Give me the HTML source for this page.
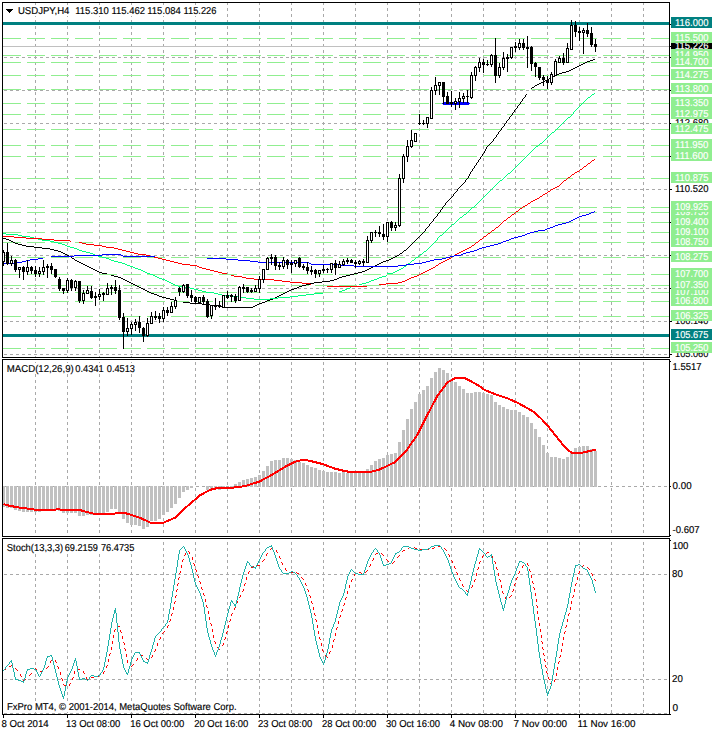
<!DOCTYPE html>
<html><head><meta charset="utf-8"><title>USDJPY,H4</title>
<style>html,body{margin:0;padding:0;background:#fff;}svg{display:block;}</style>
</head><body>
<svg width="712" height="732" viewBox="0 0 712 732" shape-rendering="crispEdges" font-family='"Liberation Sans", sans-serif' text-rendering="geometricPrecision">
<rect x="0" y="0" width="712" height="732" fill="#fff"/>
<g stroke="#a9a9a9" stroke-width="1" stroke-dasharray="3 3" fill="none">
<line x1="35.5" y1="3" x2="35.5" y2="357" stroke-dashoffset="1"/>
<line x1="67.5" y1="3" x2="67.5" y2="357" stroke-dashoffset="1"/>
<line x1="99.5" y1="3" x2="99.5" y2="357" stroke-dashoffset="1"/>
<line x1="131.5" y1="3" x2="131.5" y2="357" stroke-dashoffset="1"/>
<line x1="163.5" y1="3" x2="163.5" y2="357" stroke-dashoffset="1"/>
<line x1="195.5" y1="3" x2="195.5" y2="357" stroke-dashoffset="1"/>
<line x1="227.5" y1="3" x2="227.5" y2="357" stroke-dashoffset="1"/>
<line x1="259.5" y1="3" x2="259.5" y2="357" stroke-dashoffset="1"/>
<line x1="291.5" y1="3" x2="291.5" y2="357" stroke-dashoffset="1"/>
<line x1="323.5" y1="3" x2="323.5" y2="357" stroke-dashoffset="1"/>
<line x1="355.5" y1="3" x2="355.5" y2="357" stroke-dashoffset="1"/>
<line x1="387.5" y1="3" x2="387.5" y2="357" stroke-dashoffset="1"/>
<line x1="419.5" y1="3" x2="419.5" y2="357" stroke-dashoffset="1"/>
<line x1="451.5" y1="3" x2="451.5" y2="357" stroke-dashoffset="1"/>
<line x1="483.5" y1="3" x2="483.5" y2="357" stroke-dashoffset="1"/>
<line x1="515.5" y1="3" x2="515.5" y2="357" stroke-dashoffset="1"/>
<line x1="547.5" y1="3" x2="547.5" y2="357" stroke-dashoffset="1"/>
<line x1="579.5" y1="3" x2="579.5" y2="357" stroke-dashoffset="1"/>
<line x1="611.5" y1="3" x2="611.5" y2="357" stroke-dashoffset="1"/>
<line x1="643.5" y1="3" x2="643.5" y2="357" stroke-dashoffset="1"/>
<line x1="35.5" y1="360" x2="35.5" y2="536" stroke-dashoffset="4"/>
<line x1="67.5" y1="360" x2="67.5" y2="536" stroke-dashoffset="4"/>
<line x1="99.5" y1="360" x2="99.5" y2="536" stroke-dashoffset="4"/>
<line x1="131.5" y1="360" x2="131.5" y2="536" stroke-dashoffset="4"/>
<line x1="163.5" y1="360" x2="163.5" y2="536" stroke-dashoffset="4"/>
<line x1="195.5" y1="360" x2="195.5" y2="536" stroke-dashoffset="4"/>
<line x1="227.5" y1="360" x2="227.5" y2="536" stroke-dashoffset="4"/>
<line x1="259.5" y1="360" x2="259.5" y2="536" stroke-dashoffset="4"/>
<line x1="291.5" y1="360" x2="291.5" y2="536" stroke-dashoffset="4"/>
<line x1="323.5" y1="360" x2="323.5" y2="536" stroke-dashoffset="4"/>
<line x1="355.5" y1="360" x2="355.5" y2="536" stroke-dashoffset="4"/>
<line x1="387.5" y1="360" x2="387.5" y2="536" stroke-dashoffset="4"/>
<line x1="419.5" y1="360" x2="419.5" y2="536" stroke-dashoffset="4"/>
<line x1="451.5" y1="360" x2="451.5" y2="536" stroke-dashoffset="4"/>
<line x1="483.5" y1="360" x2="483.5" y2="536" stroke-dashoffset="4"/>
<line x1="515.5" y1="360" x2="515.5" y2="536" stroke-dashoffset="4"/>
<line x1="547.5" y1="360" x2="547.5" y2="536" stroke-dashoffset="4"/>
<line x1="579.5" y1="360" x2="579.5" y2="536" stroke-dashoffset="4"/>
<line x1="611.5" y1="360" x2="611.5" y2="536" stroke-dashoffset="4"/>
<line x1="643.5" y1="360" x2="643.5" y2="536" stroke-dashoffset="4"/>
<line x1="35.5" y1="539" x2="35.5" y2="714" stroke-dashoffset="3"/>
<line x1="67.5" y1="539" x2="67.5" y2="714" stroke-dashoffset="3"/>
<line x1="99.5" y1="539" x2="99.5" y2="714" stroke-dashoffset="3"/>
<line x1="131.5" y1="539" x2="131.5" y2="714" stroke-dashoffset="3"/>
<line x1="163.5" y1="539" x2="163.5" y2="714" stroke-dashoffset="3"/>
<line x1="195.5" y1="539" x2="195.5" y2="714" stroke-dashoffset="3"/>
<line x1="227.5" y1="539" x2="227.5" y2="714" stroke-dashoffset="3"/>
<line x1="259.5" y1="539" x2="259.5" y2="714" stroke-dashoffset="3"/>
<line x1="291.5" y1="539" x2="291.5" y2="714" stroke-dashoffset="3"/>
<line x1="323.5" y1="539" x2="323.5" y2="714" stroke-dashoffset="3"/>
<line x1="355.5" y1="539" x2="355.5" y2="714" stroke-dashoffset="3"/>
<line x1="387.5" y1="539" x2="387.5" y2="714" stroke-dashoffset="3"/>
<line x1="419.5" y1="539" x2="419.5" y2="714" stroke-dashoffset="3"/>
<line x1="451.5" y1="539" x2="451.5" y2="714" stroke-dashoffset="3"/>
<line x1="483.5" y1="539" x2="483.5" y2="714" stroke-dashoffset="3"/>
<line x1="515.5" y1="539" x2="515.5" y2="714" stroke-dashoffset="3"/>
<line x1="547.5" y1="539" x2="547.5" y2="714" stroke-dashoffset="3"/>
<line x1="579.5" y1="539" x2="579.5" y2="714" stroke-dashoffset="3"/>
<line x1="611.5" y1="539" x2="611.5" y2="714" stroke-dashoffset="3"/>
<line x1="643.5" y1="539" x2="643.5" y2="714" stroke-dashoffset="3"/>
<line x1="3" y1="24.5" x2="669" y2="24.5" stroke-dashoffset="5"/>
<line x1="3" y1="57.5" x2="669" y2="57.5" stroke-dashoffset="5"/>
<line x1="3" y1="90.5" x2="669" y2="90.5" stroke-dashoffset="5"/>
<line x1="3" y1="123.5" x2="669" y2="123.5" stroke-dashoffset="5"/>
<line x1="3" y1="156.5" x2="669" y2="156.5" stroke-dashoffset="5"/>
<line x1="3" y1="189.5" x2="669" y2="189.5" stroke-dashoffset="5"/>
<line x1="3" y1="222.5" x2="669" y2="222.5" stroke-dashoffset="5"/>
<line x1="3" y1="255.5" x2="669" y2="255.5" stroke-dashoffset="5"/>
<line x1="3" y1="288.5" x2="669" y2="288.5" stroke-dashoffset="5"/>
<line x1="3" y1="321.5" x2="669" y2="321.5" stroke-dashoffset="5"/>
<line x1="3" y1="354.5" x2="669" y2="354.5" stroke-dashoffset="5"/>
<line x1="3" y1="486.5" x2="669" y2="486.5" stroke-dashoffset="5"/>
<line x1="3" y1="574.5" x2="669" y2="574.5" stroke-dashoffset="5"/>
<line x1="3" y1="679.5" x2="669" y2="679.5" stroke-dashoffset="5"/>
<line x1="3" y1="713.5" x2="669" y2="713.5" stroke-dashoffset="5"/>
</g>
<rect x="3" y="38" width="666" height="1" fill="#fff"/>
<rect x="3" y="55" width="666" height="1" fill="#fff"/>
<rect x="3" y="62" width="666" height="1" fill="#fff"/>
<rect x="3" y="75" width="666" height="1" fill="#fff"/>
<rect x="3" y="89" width="666" height="1" fill="#fff"/>
<rect x="3" y="103" width="666" height="1" fill="#fff"/>
<rect x="3" y="114" width="666" height="1" fill="#fff"/>
<rect x="3" y="129" width="666" height="1" fill="#fff"/>
<rect x="3" y="145" width="666" height="1" fill="#fff"/>
<rect x="3" y="156" width="666" height="1" fill="#fff"/>
<rect x="3" y="178" width="666" height="1" fill="#fff"/>
<rect x="3" y="207" width="666" height="1" fill="#fff"/>
<rect x="3" y="212" width="666" height="1" fill="#fff"/>
<rect x="3" y="222" width="666" height="1" fill="#fff"/>
<rect x="3" y="232" width="666" height="1" fill="#fff"/>
<rect x="3" y="242" width="666" height="1" fill="#fff"/>
<rect x="3" y="257" width="666" height="1" fill="#fff"/>
<rect x="3" y="274" width="666" height="1" fill="#fff"/>
<rect x="3" y="285" width="666" height="1" fill="#fff"/>
<rect x="3" y="292" width="666" height="1" fill="#fff"/>
<rect x="3" y="301" width="666" height="1" fill="#fff"/>
<rect x="3" y="316" width="666" height="1" fill="#fff"/>
<rect x="3" y="348" width="666" height="1" fill="#fff"/>
<g stroke="#90ee90" stroke-width="1" stroke-dasharray="18 6" fill="none">
<line x1="3" y1="38.5" x2="669" y2="38.5"/>
<line x1="3" y1="55.5" x2="669" y2="55.5"/>
<line x1="3" y1="62.5" x2="669" y2="62.5"/>
<line x1="3" y1="75.5" x2="669" y2="75.5"/>
<line x1="3" y1="89.5" x2="669" y2="89.5"/>
<line x1="3" y1="103.5" x2="669" y2="103.5"/>
<line x1="3" y1="114.5" x2="669" y2="114.5"/>
<line x1="3" y1="129.5" x2="669" y2="129.5"/>
<line x1="3" y1="145.5" x2="669" y2="145.5"/>
<line x1="3" y1="156.5" x2="669" y2="156.5"/>
<line x1="3" y1="178.5" x2="669" y2="178.5"/>
<line x1="3" y1="207.5" x2="669" y2="207.5"/>
<line x1="3" y1="212.5" x2="669" y2="212.5"/>
<line x1="3" y1="222.5" x2="669" y2="222.5"/>
<line x1="3" y1="232.5" x2="669" y2="232.5"/>
<line x1="3" y1="242.5" x2="669" y2="242.5"/>
<line x1="3" y1="257.5" x2="669" y2="257.5"/>
<line x1="3" y1="274.5" x2="669" y2="274.5"/>
<line x1="3" y1="285.5" x2="669" y2="285.5"/>
<line x1="3" y1="292.5" x2="669" y2="292.5"/>
<line x1="3" y1="301.5" x2="669" y2="301.5"/>
<line x1="3" y1="316.5" x2="669" y2="316.5"/>
<line x1="3" y1="348.5" x2="669" y2="348.5"/>
</g>
<rect x="3" y="46" width="666" height="1" fill="#c0c0c0"/>
<rect x="3" y="22" width="666" height="3" fill="#008080"/>
<rect x="3" y="334" width="666" height="3" fill="#008080"/>
<path fill="#000" d="M438 213h1v1h-1zM111 275h3v1h-3zM346 275h4v1h-4zM125 280h2v1h-2zM330 280h4v1h-4zM77 261h2v1h-2zM383 261h3v1h-3zM517 106h1v1h-1zM85 265h2v1h-2zM375 265h2v1h-2zM571 69h2v1h-2zM451 197h1v1h-1zM202 304h8v1h-8zM257 304h2v1h-2zM454 193h1v1h-1zM54 250h4v1h-4zM404 250h2v1h-2zM143 289h2v1h-2zM291 289h3v1h-3zM72 258h2v1h-2zM391 258h2v1h-2zM102 273h5v1h-5zM354 273h4v1h-4zM566 71h3v1h-3zM121 278h2v1h-2zM337 278h2v1h-2zM218 306h4v1h-4zM253 306h2v1h-2zM170 299h4v1h-4zM270 299h3v1h-3zM449 199h1v1h-1zM34 247h8v1h-8zM408 247h1v1h-1zM147 291h2v1h-2zM287 291h2v1h-2zM485 149h1v1h-1zM26 246h8v1h-8zM409 246h1v1h-1zM222 307h31v1h-31zM547 79h2v1h-2zM114 276h4v1h-4zM342 276h4v1h-4zM474 166h1v1h-1zM510 116h1v1h-1zM50 249h4v1h-4zM406 249h1v1h-1zM543 81h2v1h-2zM83 264h2v1h-2zM377 264h2v1h-2zM513 112h1v1h-1zM587 61h3v1h-3zM498 132h1v1h-1zM522 99h1v1h-1zM525 95h1v1h-1zM457 189h1v1h-1zM166 298h4v1h-4zM273 298h2v1h-2zM67 255h2v1h-2zM397 255h2v1h-2zM493 139h1v1h-1zM89 267h2v1h-2zM371 267h2v1h-2zM157 295h2v1h-2zM279 295h2v1h-2zM470 173h1v1h-1zM562 72h4v1h-4zM42 248h8v1h-8zM407 248h1v1h-1zM97 271h2v1h-2zM362 271h3v1h-3zM593 59h2v1h-2zM131 283h2v1h-2zM310 283h4v1h-4zM75 260h2v1h-2zM386 260h3v1h-3zM63 253h2v1h-2zM400 253h2v1h-2zM190 303h12v1h-12zM259 303h3v1h-3zM11 241h2v1h-2zM414 241h1v1h-1zM477 162h1v1h-1zM501 129h1v1h-1zM504 125h1v1h-1zM446 202h1v1h-1zM129 282h2v1h-2zM314 282h8v1h-8zM569 70h2v1h-2zM18 244h4v1h-4zM411 244h1v1h-1zM516 108h1v1h-1zM350 274h4v1h-4zM137 286h2v1h-2zM299 286h3v1h-3zM429 225h1v1h-1zM58 251h3v1h-3zM403 251h1v1h-1zM539 83h2v1h-2zM583 63h2v1h-2zM183 302h7v1h-7zM262 302h3v1h-3zM3 238h3v1h-3zM417 238h1v1h-1zM93 269h2v1h-2zM367 269h2v1h-2zM61 252h2v1h-2zM402 252h1v1h-1zM162 297h4v1h-4zM275 297h2v1h-2zM139 287h2v1h-2zM297 287h2v1h-2zM118 277h3v1h-3zM339 277h3v1h-3zM426 228h1v1h-1zM133 284h2v1h-2zM306 284h4v1h-4zM461 185h1v1h-1zM437 215h1v1h-1zM473 168h1v1h-1zM421 234h1v1h-1zM135 285h2v1h-2zM302 285h4v1h-4zM453 195h1v1h-1zM127 281h2v1h-2zM322 281h8v1h-8zM480 158h1v1h-1zM13 242h2v1h-2zM413 242h1v1h-1zM210 305h8v1h-8zM255 305h2v1h-2zM492 141h1v1h-1zM159 296h3v1h-3zM277 296h2v1h-2zM149 292h2v1h-2zM285 292h2v1h-2zM501 128h1v1h-1zM504 124h1v1h-1zM15 243h3v1h-3zM412 243h1v1h-1zM469 175h1v1h-1zM6 239h3v1h-3zM416 239h1v1h-1zM151 293h3v1h-3zM283 293h2v1h-2zM535 85h2v1h-2zM484 151h1v1h-1zM464 182h1v1h-1zM71 257h1v1h-1zM393 257h2v1h-2zM123 279h2v1h-2zM334 279h3v1h-3zM154 294h3v1h-3zM281 294h2v1h-2zM429 224h1v1h-1zM145 290h2v1h-2zM289 290h2v1h-2zM9 240h2v1h-2zM415 240h1v1h-1zM99 272h3v1h-3zM358 272h4v1h-4zM74 259h1v1h-1zM389 259h2v1h-2zM445 204h1v1h-1zM512 114h1v1h-1zM91 268h2v1h-2zM369 268h2v1h-2zM524 97h1v1h-1zM456 191h1v1h-1zM559 73h3v1h-3zM141 288h2v1h-2zM294 288h3v1h-3zM495 137h1v1h-1zM437 214h1v1h-1zM440 210h1v1h-1zM507 120h1v1h-1zM480 157h1v1h-1zM22 245h4v1h-4zM410 245h1v1h-1zM448 200h1v1h-1zM541 82h2v1h-2zM487 146h1v1h-1zM81 263h2v1h-2zM379 263h2v1h-2zM585 62h2v1h-2zM476 164h1v1h-1zM95 270h2v1h-2zM365 270h2v1h-2zM577 66h2v1h-2zM500 130h1v1h-1zM555 75h2v1h-2zM459 187h1v1h-1zM590 60h3v1h-3zM483 153h1v1h-1zM425 230h1v1h-1zM428 226h1v1h-1zM174 300h1v1h-1zM267 300h3v1h-3zM423 232h1v1h-1zM87 266h2v1h-2zM373 266h2v1h-2zM79 262h2v1h-2zM381 262h2v1h-2zM436 216h1v1h-1zM537 84h2v1h-2zM581 64h2v1h-2zM503 126h1v1h-1zM506 122h1v1h-1zM515 109h1v1h-1zM69 256h2v1h-2zM395 256h2v1h-2zM443 206h1v1h-1zM573 68h2v1h-2zM431 222h1v1h-1zM557 74h2v1h-2zM420 235h1v1h-1zM65 254h2v1h-2zM399 254h1v1h-1zM534 86h1v1h-1zM479 159h1v1h-1zM491 142h1v1h-1zM494 138h1v1h-1zM518 105h1v1h-1zM506 121h1v1h-1zM463 183h1v1h-1zM486 148h1v1h-1zM466 179h1v1h-1zM553 76h2v1h-2zM265 301h2v1h-2zM549 78h2v1h-2zM470 172h1v1h-1zM439 212h1v1h-1zM442 208h1v1h-1zM482 155h1v1h-1zM509 118h1v1h-1zM521 101h1v1h-1zM434 218h1v1h-1zM579 65h2v1h-2zM450 198h1v1h-1zM532 87h2v1h-2zM575 67h2v1h-2zM486 147h1v1h-1zM478 161h1v1h-1zM545 80h2v1h-2zM458 188h1v1h-1zM497 134h1v1h-1zM442 207h1v1h-1zM482 154h1v1h-1zM418 237h1v1h-1zM509 117h1v1h-1zM453 194h1v1h-1zM489 144h1v1h-1zM469 174h1v1h-1zM517 107h1v1h-1zM520 103h1v1h-1zM433 220h1v1h-1zM445 203h1v1h-1zM465 181h1v1h-1zM512 113h1v1h-1zM551 77h2v1h-2zM485 150h1v1h-1zM422 233h1v1h-1zM457 190h1v1h-1zM493 140h1v1h-1zM481 156h1v1h-1zM505 123h1v1h-1zM520 102h1v1h-1zM452 196h1v1h-1zM476 163h1v1h-1zM468 177h1v1h-1zM433 219h1v1h-1zM465 180h1v1h-1zM425 229h1v1h-1zM472 170h1v1h-1zM496 136h1v1h-1zM441 209h1v1h-1zM508 119h1v1h-1zM511 115h1v1h-1zM523 98h1v1h-1zM488 145h1v1h-1zM468 176h1v1h-1zM444 205h1v1h-1zM460 186h1v1h-1zM472 169h1v1h-1zM475 165h1v1h-1zM484 152h1v1h-1zM496 135h1v1h-1zM499 131h1v1h-1zM455 192h1v1h-1zM424 231h1v1h-1zM440 211h1v1h-1zM531 88h1v1h-1zM519 104h1v1h-1zM447 201h1v1h-1zM432 221h1v1h-1zM514 111h1v1h-1zM435 217h1v1h-1zM502 127h1v1h-1zM526 94h1v1h-1zM427 227h1v1h-1zM471 171h1v1h-1zM419 236h1v1h-1zM478 160h1v1h-1zM467 178h1v1h-1zM490 143h1v1h-1zM514 110h1v1h-1zM430 223h1v1h-1zM462 184h1v1h-1zM474 167h1v1h-1zM498 133h1v1h-1zM522 100h1v1h-1zM525 96h1v1h-1z"/>
<path fill="#00ff7f" d="M578 107h1v1h-1zM173 284h2v1h-2zM359 284h3v1h-3zM6 234h12v1h-12zM442 234h1v1h-1zM214 293h4v1h-4zM314 293h9v1h-9zM194 289h4v1h-4zM345 289h2v1h-2zM500 180h2v1h-2zM147 273h3v1h-3zM387 273h6v1h-6zM42 240h8v1h-8zM436 240h1v1h-1zM238 297h8v1h-8zM278 297h12v1h-12zM536 146h2v1h-2zM198 290h4v1h-4zM342 290h3v1h-3zM127 265h3v1h-3zM406 265h1v1h-1zM82 251h4v1h-4zM424 251h2v1h-2zM141 270h2v1h-2zM397 270h2v1h-2zM527 155h1v1h-1zM452 224h2v1h-2zM22 236h8v1h-8zM439 236h1v1h-1zM165 280h2v1h-2zM371 280h3v1h-3zM118 262h4v1h-4zM410 262h1v1h-1zM54 242h4v1h-4zM434 242h1v1h-1zM566 119h1v1h-1zM230 296h8v1h-8zM290 296h8v1h-8zM492 188h1v1h-1zM206 292h8v1h-8zM446 230h1v1h-1zM178 286h4v1h-4zM58 243h4v1h-4zM433 243h1v1h-1zM190 288h4v1h-4zM347 288h3v1h-3zM570 116h1v1h-1zM524 158h1v1h-1zM38 239h4v1h-4zM437 239h1v1h-1zM93 254h2v1h-2zM420 254h2v1h-2zM254 299h16v1h-16zM515 167h1v1h-1zM550 134h1v1h-1zM122 263h3v1h-3zM408 263h2v1h-2zM95 255h3v1h-3zM419 255h1v1h-1zM114 261h4v1h-4zM411 261h1v1h-1zM554 131h1v1h-1zM508 173h2v1h-2zM222 295h8v1h-8zM298 295h8v1h-8zM86 252h4v1h-4zM423 252h1v1h-1zM202 291h4v1h-4zM339 291h3v1h-3zM480 200h1v1h-1zM67 246h3v1h-3zM430 246h1v1h-1zM98 256h4v1h-4zM418 256h1v1h-1zM218 294h4v1h-4zM306 294h8v1h-8zM155 276h2v1h-2zM382 276h4v1h-4zM512 170h1v1h-1zM547 137h1v1h-1zM30 237h4v1h-4zM438 237h1v1h-1zM90 253h3v1h-3zM422 253h1v1h-1zM125 264h2v1h-2zM407 264h1v1h-1zM145 272h2v1h-2zM393 272h2v1h-2zM182 287h8v1h-8zM350 287h1v1h-1zM169 282h2v1h-2zM366 282h3v1h-3zM62 244h3v1h-3zM432 244h1v1h-1zM573 112h1v1h-1zM499 181h1v1h-1zM65 245h2v1h-2zM431 245h1v1h-1zM109 259h2v1h-2zM414 259h1v1h-1zM102 257h4v1h-4zM416 257h2v1h-2zM34 238h4v1h-4zM437 238h1v1h-1zM561 124h1v1h-1zM585 100h1v1h-1zM487 193h1v1h-1zM18 235h4v1h-4zM440 235h2v1h-2zM138 269h3v1h-3zM399 269h2v1h-2zM519 163h1v1h-1zM588 97h2v1h-2zM130 266h3v1h-3zM404 266h2v1h-2zM70 247h4v1h-4zM429 247h1v1h-1zM534 148h1v1h-1zM471 208h1v1h-1zM246 298h8v1h-8zM270 298h8v1h-8zM460 217h2v1h-2zM503 178h1v1h-1zM538 145h1v1h-1zM475 205h1v1h-1zM143 271h2v1h-2zM395 271h2v1h-2zM464 214h2v1h-2zM542 142h1v1h-1zM3 233h3v1h-3zM443 233h1v1h-1zM135 268h3v1h-3zM401 268h2v1h-2zM522 160h1v1h-1zM577 108h1v1h-1zM153 275h2v1h-2zM386 275h1v1h-1zM494 186h1v1h-1zM162 279h3v1h-3zM374 279h3v1h-3zM448 228h1v1h-1zM74 248h3v1h-3zM428 248h1v1h-1zM592 94h2v1h-2zM157 277h2v1h-2zM379 277h3v1h-3zM510 172h1v1h-1zM565 120h1v1h-1zM77 249h2v1h-2zM427 249h1v1h-1zM150 274h3v1h-3zM171 283h2v1h-2zM362 283h4v1h-4zM580 105h1v1h-1zM79 250h3v1h-3zM426 250h1v1h-1zM549 135h1v1h-1zM50 241h4v1h-4zM435 241h1v1h-1zM451 225h1v1h-1zM106 258h3v1h-3zM415 258h1v1h-1zM529 153h1v1h-1zM466 213h1v1h-1zM167 281h2v1h-2zM369 281h2v1h-2zM455 222h1v1h-1zM111 260h3v1h-3zM412 260h2v1h-2zM568 117h2v1h-2zM159 278h3v1h-3zM377 278h2v1h-2zM526 156h1v1h-1zM482 198h1v1h-1zM517 165h1v1h-1zM587 98h1v1h-1zM556 129h1v1h-1zM552 132h2v1h-2zM514 168h1v1h-1zM175 285h3v1h-3zM572 114h1v1h-1zM540 143h2v1h-2zM575 110h1v1h-1zM544 140h1v1h-1zM498 182h1v1h-1zM533 149h1v1h-1zM591 95h1v1h-1zM563 122h1v1h-1zM486 194h1v1h-1zM521 161h1v1h-1zM477 203h1v1h-1zM582 103h1v1h-1zM470 209h1v1h-1zM505 176h1v1h-1zM474 206h1v1h-1zM489 191h1v1h-1zM457 220h1v1h-1zM133 267h2v1h-2zM403 267h1v1h-1zM450 226h1v1h-1zM560 125h1v1h-1zM528 154h1v1h-1zM454 223h1v1h-1zM558 127h1v1h-1zM579 106h1v1h-1zM481 199h1v1h-1zM516 166h1v1h-1zM551 133h1v1h-1zM496 184h1v1h-1zM531 151h1v1h-1zM468 211h1v1h-1zM567 118h1v1h-1zM493 187h1v1h-1zM484 196h1v1h-1zM445 231h1v1h-1zM586 99h1v1h-1zM555 130h1v1h-1zM523 159h1v1h-1zM590 96h1v1h-1zM507 174h1v1h-1zM574 111h1v1h-1zM511 171h1v1h-1zM535 147h1v1h-1zM491 189h1v1h-1zM562 123h1v1h-1zM488 192h1v1h-1zM479 201h1v1h-1zM546 138h1v1h-1zM584 101h1v1h-1zM472 207h2v1h-2zM476 204h1v1h-1zM459 218h1v1h-1zM502 179h1v1h-1zM456 221h1v1h-1zM495 185h1v1h-1zM530 152h1v1h-1zM573 113h1v1h-1zM557 128h1v1h-1zM581 104h1v1h-1zM483 197h1v1h-1zM518 164h1v1h-1zM463 215h1v1h-1zM467 212h1v1h-1zM506 175h1v1h-1zM447 229h1v1h-1zM490 190h1v1h-1zM525 157h1v1h-1zM444 232h1v1h-1zM548 136h1v1h-1zM576 109h1v1h-1zM478 202h1v1h-1zM513 169h1v1h-1zM545 139h1v1h-1zM571 115h1v1h-1zM564 121h1v1h-1zM532 150h1v1h-1zM594 93h1v1h-1zM583 102h1v1h-1zM520 162h1v1h-1zM469 210h1v1h-1zM504 177h1v1h-1zM539 144h1v1h-1zM458 219h1v1h-1zM462 216h1v1h-1zM497 183h1v1h-1zM449 227h1v1h-1zM559 126h1v1h-1zM485 195h1v1h-1zM543 141h1v1h-1z"/>
<path fill="#ff0000" d="M94 245h8v1h-8zM472 245h2v1h-2zM3 236h11v1h-11zM484 236h2v1h-2zM282 281h8v1h-8zM402 281h3v1h-3zM246 278h8v1h-8zM409 278h2v1h-2zM102 246h4v1h-4zM471 246h1v1h-1zM231 275h3v1h-3zM417 275h2v1h-2zM122 250h4v1h-4zM463 250h2v1h-2zM494 229h1v1h-1zM327 286h40v1h-40zM82 243h4v1h-4zM475 243h1v1h-1zM310 284h1v1h-1zM379 284h7v1h-7zM210 270h4v1h-4zM427 270h2v1h-2zM182 264h8v1h-8zM438 264h1v1h-1zM222 273h5v1h-5zM421 273h2v1h-2zM26 238h16v1h-16zM482 238h1v1h-1zM42 239h12v1h-12zM480 239h2v1h-2zM522 207h1v1h-1zM190 265h7v1h-7zM436 265h2v1h-2zM214 271h4v1h-4zM425 271h2v1h-2zM254 279h20v1h-20zM407 279h2v1h-2zM197 266h2v1h-2zM435 266h1v1h-1zM158 258h4v1h-4zM449 258h2v1h-2zM302 283h8v1h-8zM386 283h12v1h-12zM106 247h8v1h-8zM469 247h2v1h-2zM583 167h1v1h-1zM575 172h2v1h-2zM118 249h4v1h-4zM465 249h2v1h-2zM114 248h4v1h-4zM467 248h2v1h-2zM242 277h4v1h-4zM411 277h3v1h-3zM498 226h1v1h-1zM587 164h1v1h-1zM138 254h8v1h-8zM455 254h2v1h-2zM86 244h8v1h-8zM474 244h1v1h-1zM14 237h12v1h-12zM483 237h1v1h-1zM290 282h12v1h-12zM398 282h4v1h-4zM54 240h16v1h-16zM479 240h1v1h-1zM162 259h4v1h-4zM447 259h2v1h-2zM218 272h4v1h-4zM423 272h2v1h-2zM166 260h4v1h-4zM445 260h2v1h-2zM234 276h8v1h-8zM414 276h3v1h-3zM146 255h4v1h-4zM454 255h1v1h-1zM528 203h2v1h-2zM126 251h4v1h-4zM461 251h2v1h-2zM199 267h3v1h-3zM433 267h2v1h-2zM591 161h1v1h-1zM520 208h2v1h-2zM508 217h2v1h-2zM564 180h2v1h-2zM79 242h3v1h-3zM476 242h2v1h-2zM274 280h8v1h-8zM405 280h2v1h-2zM512 214h2v1h-2zM540 196h2v1h-2zM130 252h4v1h-4zM459 252h2v1h-2zM170 261h4v1h-4zM443 261h2v1h-2zM419 274h2v1h-2zM150 256h4v1h-4zM452 256h2v1h-2zM202 268h4v1h-4zM431 268h2v1h-2zM134 253h4v1h-4zM457 253h2v1h-2zM206 269h4v1h-4zM429 269h2v1h-2zM154 257h4v1h-4zM451 257h1v1h-1zM516 211h2v1h-2zM566 179h1v1h-1zM577 171h2v1h-2zM570 176h1v1h-1zM559 185h1v1h-1zM582 168h1v1h-1zM511 215h1v1h-1zM500 224h1v1h-1zM574 173h1v1h-1zM488 233h2v1h-2zM555 187h2v1h-2zM586 165h1v1h-1zM178 263h4v1h-4zM439 263h2v1h-2zM547 192h1v1h-1zM492 230h2v1h-2zM539 197h1v1h-1zM174 262h4v1h-4zM441 262h2v1h-2zM515 212h1v1h-1zM527 204h1v1h-1zM519 209h1v1h-1zM543 194h2v1h-2zM535 199h2v1h-2zM523 206h2v1h-2zM557 186h2v1h-2zM548 191h2v1h-2zM487 234h1v1h-1zM561 183h1v1h-1zM531 201h2v1h-2zM568 177h2v1h-2zM553 188h2v1h-2zM545 193h2v1h-2zM502 222h1v1h-1zM580 169h2v1h-2zM491 231h1v1h-1zM537 198h2v1h-2zM506 219h1v1h-1zM584 166h2v1h-2zM495 228h1v1h-1zM499 225h1v1h-1zM572 174h2v1h-2zM533 200h2v1h-2zM525 205h2v1h-2zM588 163h2v1h-2zM70 241h1v1h-1zM478 241h1v1h-1zM510 216h1v1h-1zM514 213h1v1h-1zM590 162h1v1h-1zM551 189h2v1h-2zM496 227h2v1h-2zM563 181h1v1h-1zM594 159h1v1h-1zM486 235h1v1h-1zM490 232h1v1h-1zM504 220h2v1h-2zM567 178h1v1h-1zM579 170h1v1h-1zM571 175h1v1h-1zM560 184h1v1h-1zM501 223h1v1h-1zM592 160h2v1h-2zM550 190h1v1h-1zM542 195h1v1h-1zM562 182h1v1h-1zM518 210h1v1h-1zM503 221h1v1h-1zM530 202h1v1h-1zM507 218h1v1h-1z"/>
<path fill="#0000ff" d="M527 233h3v1h-3zM102 254h19v1h-19zM461 254h2v1h-2zM575 218h2v1h-2zM51 256h23v1h-23zM123 256h32v1h-32zM450 256h4v1h-4zM26 260h4v1h-4zM238 260h12v1h-12zM430 260h4v1h-4zM538 230h7v1h-7zM38 258h5v1h-5zM207 258h19v1h-19zM442 258h4v1h-4zM74 255h28v1h-28zM121 255h2v1h-2zM454 255h7v1h-7zM30 259h8v1h-8zM226 259h12v1h-12zM434 259h8v1h-8zM22 261h4v1h-4zM250 261h8v1h-8zM426 261h4v1h-4zM311 264h27v1h-27zM406 264h8v1h-8zM586 214h3v1h-3zM501 242h2v1h-2zM3 263h11v1h-11zM309 263h2v1h-2zM414 263h8v1h-8zM482 247h4v1h-4zM338 265h16v1h-16zM398 265h8v1h-8zM354 266h44v1h-44zM558 224h4v1h-4zM534 231h4v1h-4zM14 262h8v1h-8zM258 262h51v1h-51zM422 262h4v1h-4zM591 212h3v1h-3zM511 238h3v1h-3zM490 245h4v1h-4zM446 257h4v1h-4zM518 236h4v1h-4zM571 220h2v1h-2zM582 215h4v1h-4zM466 252h4v1h-4zM530 232h4v1h-4zM566 222h3v1h-3zM474 250h3v1h-3zM573 219h2v1h-2zM503 241h3v1h-3zM555 225h3v1h-3zM479 248h3v1h-3zM577 217h2v1h-2zM486 246h4v1h-4zM562 223h4v1h-4zM589 213h2v1h-2zM514 237h4v1h-4zM569 221h2v1h-2zM498 243h3v1h-3zM522 235h3v1h-3zM463 253h3v1h-3zM470 251h4v1h-4zM477 249h2v1h-2zM553 226h2v1h-2zM579 216h3v1h-3zM547 228h3v1h-3zM506 240h3v1h-3zM494 244h4v1h-4zM525 234h2v1h-2zM594 211h1v1h-1zM545 229h2v1h-2zM550 227h3v1h-3zM509 239h2v1h-2z"/>
<rect x="443" y="102" width="26" height="3" fill="#0000ff"/>
<rect x="442" y="103" width="28" height="1" fill="#0000ff"/>
<g fill="#000">
<rect x="3" y="250" width="1" height="16"/>
<rect x="2" y="252" width="3" height="10"/>
<rect x="7" y="243" width="1" height="22"/>
<rect x="6" y="252" width="3" height="12"/>
<rect x="11" y="256" width="1" height="10"/>
<rect x="10" y="260" width="3" height="4"/>
<rect x="15" y="259" width="1" height="13"/>
<rect x="14" y="260" width="3" height="10"/>
<rect x="19" y="267" width="1" height="11"/>
<rect x="18" y="267" width="3" height="3"/>
<rect x="23" y="266" width="1" height="14"/>
<rect x="22" y="267" width="3" height="5"/>
<rect x="27" y="260" width="1" height="15"/>
<rect x="26" y="267" width="3" height="5"/>
<rect x="31" y="266" width="1" height="8"/>
<rect x="30" y="267" width="3" height="4"/>
<rect x="35" y="266" width="1" height="11"/>
<rect x="34" y="270" width="3" height="4"/>
<rect x="39" y="267" width="1" height="10"/>
<rect x="38" y="271" width="3" height="3"/>
<rect x="43" y="260" width="1" height="15"/>
<rect x="42" y="267" width="3" height="5"/>
<rect x="47" y="264" width="1" height="14"/>
<rect x="46" y="266" width="3" height="2"/>
<rect x="51" y="263" width="1" height="11"/>
<rect x="50" y="266" width="3" height="4"/>
<rect x="55" y="269" width="1" height="9"/>
<rect x="54" y="269" width="3" height="8"/>
<rect x="59" y="277" width="1" height="14"/>
<rect x="58" y="279" width="3" height="10"/>
<rect x="63" y="288" width="1" height="6"/>
<rect x="62" y="288" width="3" height="3"/>
<rect x="67" y="278" width="1" height="15"/>
<rect x="66" y="280" width="3" height="11"/>
<rect x="71" y="279" width="1" height="12"/>
<rect x="70" y="280" width="3" height="8"/>
<rect x="75" y="280" width="1" height="11"/>
<rect x="74" y="281" width="3" height="7"/>
<rect x="79" y="281" width="1" height="22"/>
<rect x="78" y="281" width="3" height="20"/>
<rect x="83" y="290" width="1" height="14"/>
<rect x="82" y="293" width="3" height="8"/>
<rect x="87" y="286" width="1" height="8"/>
<rect x="86" y="290" width="3" height="4"/>
<rect x="91" y="286" width="1" height="13"/>
<rect x="90" y="291" width="3" height="7"/>
<rect x="95" y="292" width="1" height="14"/>
<rect x="94" y="296" width="3" height="2"/>
<rect x="99" y="289" width="1" height="11"/>
<rect x="98" y="294" width="3" height="3"/>
<rect x="103" y="292" width="1" height="9"/>
<rect x="102" y="293" width="3" height="2"/>
<rect x="107" y="283" width="1" height="12"/>
<rect x="106" y="288" width="3" height="7"/>
<rect x="111" y="285" width="1" height="10"/>
<rect x="110" y="287" width="3" height="2"/>
<rect x="115" y="280" width="1" height="14"/>
<rect x="114" y="287" width="3" height="4"/>
<rect x="119" y="285" width="1" height="35"/>
<rect x="118" y="290" width="3" height="28"/>
<rect x="123" y="313" width="1" height="36"/>
<rect x="122" y="317" width="3" height="15"/>
<rect x="127" y="318" width="1" height="18"/>
<rect x="126" y="328" width="3" height="4"/>
<rect x="131" y="322" width="1" height="13"/>
<rect x="130" y="324" width="3" height="5"/>
<rect x="135" y="319" width="1" height="12"/>
<rect x="134" y="322" width="3" height="3"/>
<rect x="139" y="316" width="1" height="17"/>
<rect x="138" y="322" width="3" height="6"/>
<rect x="143" y="327" width="1" height="15"/>
<rect x="142" y="328" width="3" height="8"/>
<rect x="147" y="318" width="1" height="19"/>
<rect x="146" y="323" width="3" height="13"/>
<rect x="151" y="312" width="1" height="12"/>
<rect x="150" y="316" width="3" height="8"/>
<rect x="155" y="311" width="1" height="9"/>
<rect x="154" y="316" width="3" height="2"/>
<rect x="159" y="313" width="1" height="10"/>
<rect x="158" y="316" width="3" height="3"/>
<rect x="163" y="307" width="1" height="15"/>
<rect x="162" y="310" width="3" height="9"/>
<rect x="167" y="307" width="1" height="9"/>
<rect x="166" y="310" width="3" height="3"/>
<rect x="171" y="302" width="1" height="11"/>
<rect x="170" y="306" width="3" height="7"/>
<rect x="175" y="297" width="1" height="12"/>
<rect x="174" y="300" width="3" height="7"/>
<rect x="179" y="287" width="1" height="9"/>
<rect x="178" y="288" width="3" height="4"/>
<rect x="183" y="284" width="1" height="9"/>
<rect x="182" y="285" width="3" height="7"/>
<rect x="187" y="284" width="1" height="14"/>
<rect x="186" y="284" width="3" height="12"/>
<rect x="191" y="290" width="1" height="12"/>
<rect x="190" y="295" width="3" height="3"/>
<rect x="195" y="296" width="1" height="7"/>
<rect x="194" y="297" width="3" height="5"/>
<rect x="199" y="297" width="1" height="6"/>
<rect x="198" y="297" width="3" height="6"/>
<rect x="203" y="295" width="1" height="9"/>
<rect x="202" y="297" width="3" height="5"/>
<rect x="207" y="299" width="1" height="19"/>
<rect x="206" y="301" width="3" height="16"/>
<rect x="211" y="305" width="1" height="14"/>
<rect x="210" y="305" width="3" height="11"/>
<rect x="215" y="298" width="1" height="12"/>
<rect x="214" y="305" width="3" height="2"/>
<rect x="219" y="301" width="1" height="7"/>
<rect x="218" y="305" width="3" height="2"/>
<rect x="223" y="295" width="1" height="13"/>
<rect x="222" y="295" width="3" height="13"/>
<rect x="227" y="291" width="1" height="8"/>
<rect x="226" y="295" width="3" height="3"/>
<rect x="231" y="294" width="1" height="8"/>
<rect x="230" y="295" width="3" height="2"/>
<rect x="235" y="294" width="1" height="9"/>
<rect x="234" y="296" width="3" height="5"/>
<rect x="239" y="286" width="1" height="15"/>
<rect x="238" y="287" width="3" height="14"/>
<rect x="243" y="284" width="1" height="9"/>
<rect x="242" y="287" width="3" height="2"/>
<rect x="247" y="287" width="1" height="6"/>
<rect x="246" y="287" width="3" height="5"/>
<rect x="251" y="288" width="1" height="5"/>
<rect x="250" y="290" width="3" height="2"/>
<rect x="255" y="285" width="1" height="7"/>
<rect x="254" y="288" width="3" height="4"/>
<rect x="259" y="276" width="1" height="17"/>
<rect x="258" y="279" width="3" height="10"/>
<rect x="263" y="269" width="1" height="14"/>
<rect x="262" y="269" width="3" height="11"/>
<rect x="267" y="257" width="1" height="13"/>
<rect x="266" y="258" width="3" height="12"/>
<rect x="271" y="254" width="1" height="11"/>
<rect x="270" y="257" width="3" height="2"/>
<rect x="275" y="255" width="1" height="15"/>
<rect x="274" y="257" width="3" height="9"/>
<rect x="279" y="262" width="1" height="8"/>
<rect x="278" y="265" width="3" height="2"/>
<rect x="283" y="257" width="1" height="12"/>
<rect x="282" y="260" width="3" height="7"/>
<rect x="287" y="259" width="1" height="10"/>
<rect x="286" y="260" width="3" height="5"/>
<rect x="291" y="260" width="1" height="13"/>
<rect x="290" y="263" width="3" height="2"/>
<rect x="295" y="260" width="1" height="7"/>
<rect x="294" y="260" width="3" height="4"/>
<rect x="299" y="257" width="1" height="11"/>
<rect x="298" y="258" width="3" height="9"/>
<rect x="303" y="264" width="1" height="6"/>
<rect x="302" y="266" width="3" height="2"/>
<rect x="307" y="262" width="1" height="12"/>
<rect x="306" y="267" width="3" height="4"/>
<rect x="311" y="266" width="1" height="9"/>
<rect x="310" y="270" width="3" height="2"/>
<rect x="315" y="269" width="1" height="9"/>
<rect x="314" y="270" width="3" height="4"/>
<rect x="319" y="270" width="1" height="7"/>
<rect x="318" y="270" width="3" height="4"/>
<rect x="323" y="265" width="1" height="8"/>
<rect x="322" y="269" width="3" height="2"/>
<rect x="327" y="268" width="1" height="5"/>
<rect x="326" y="269" width="3" height="1"/>
<rect x="331" y="263" width="1" height="10"/>
<rect x="330" y="263" width="3" height="7"/>
<rect x="335" y="260" width="1" height="15"/>
<rect x="334" y="263" width="3" height="5"/>
<rect x="339" y="261" width="1" height="7"/>
<rect x="338" y="264" width="3" height="4"/>
<rect x="343" y="259" width="1" height="7"/>
<rect x="342" y="261" width="3" height="4"/>
<rect x="347" y="258" width="1" height="6"/>
<rect x="346" y="260" width="3" height="2"/>
<rect x="351" y="259" width="1" height="4"/>
<rect x="350" y="260" width="3" height="3"/>
<rect x="355" y="260" width="1" height="8"/>
<rect x="354" y="262" width="3" height="2"/>
<rect x="359" y="260" width="1" height="5"/>
<rect x="358" y="261" width="3" height="3"/>
<rect x="363" y="259" width="1" height="7"/>
<rect x="362" y="261" width="3" height="2"/>
<rect x="367" y="236" width="1" height="27"/>
<rect x="366" y="240" width="3" height="23"/>
<rect x="371" y="232" width="1" height="11"/>
<rect x="370" y="232" width="3" height="9"/>
<rect x="375" y="230" width="1" height="7"/>
<rect x="374" y="232" width="3" height="1"/>
<rect x="379" y="226" width="1" height="11"/>
<rect x="378" y="232" width="3" height="2"/>
<rect x="383" y="224" width="1" height="16"/>
<rect x="382" y="234" width="3" height="3"/>
<rect x="387" y="222" width="1" height="20"/>
<rect x="386" y="222" width="3" height="15"/>
<rect x="391" y="221" width="1" height="10"/>
<rect x="390" y="222" width="3" height="6"/>
<rect x="395" y="222" width="1" height="9"/>
<rect x="394" y="225" width="3" height="3"/>
<rect x="399" y="174" width="1" height="53"/>
<rect x="398" y="178" width="3" height="48"/>
<rect x="403" y="154" width="1" height="29"/>
<rect x="402" y="156" width="3" height="23"/>
<rect x="407" y="140" width="1" height="22"/>
<rect x="406" y="146" width="3" height="11"/>
<rect x="411" y="130" width="1" height="18"/>
<rect x="410" y="140" width="3" height="7"/>
<rect x="415" y="133" width="1" height="9"/>
<rect x="414" y="133" width="3" height="9"/>
<rect x="419" y="114" width="1" height="11"/>
<rect x="418" y="123" width="3" height="1"/>
<rect x="423" y="120" width="1" height="5"/>
<rect x="422" y="123" width="3" height="1"/>
<rect x="427" y="117" width="1" height="11"/>
<rect x="426" y="117" width="3" height="7"/>
<rect x="431" y="87" width="1" height="32"/>
<rect x="430" y="90" width="3" height="29"/>
<rect x="435" y="77" width="1" height="18"/>
<rect x="434" y="85" width="3" height="6"/>
<rect x="439" y="82" width="1" height="13"/>
<rect x="438" y="82" width="3" height="4"/>
<rect x="443" y="82" width="1" height="22"/>
<rect x="442" y="82" width="3" height="15"/>
<rect x="447" y="92" width="1" height="12"/>
<rect x="446" y="96" width="3" height="8"/>
<rect x="451" y="91" width="1" height="16"/>
<rect x="450" y="102" width="3" height="2"/>
<rect x="455" y="98" width="1" height="12"/>
<rect x="454" y="101" width="3" height="3"/>
<rect x="459" y="92" width="1" height="16"/>
<rect x="458" y="98" width="3" height="4"/>
<rect x="463" y="93" width="1" height="10"/>
<rect x="462" y="96" width="3" height="3"/>
<rect x="467" y="90" width="1" height="13"/>
<rect x="466" y="96" width="3" height="1"/>
<rect x="471" y="72" width="1" height="27"/>
<rect x="470" y="75" width="3" height="23"/>
<rect x="475" y="66" width="1" height="15"/>
<rect x="474" y="67" width="3" height="9"/>
<rect x="479" y="58" width="1" height="14"/>
<rect x="478" y="62" width="3" height="6"/>
<rect x="483" y="59" width="1" height="14"/>
<rect x="482" y="62" width="3" height="3"/>
<rect x="487" y="60" width="1" height="6"/>
<rect x="486" y="64" width="3" height="1"/>
<rect x="491" y="54" width="1" height="13"/>
<rect x="490" y="55" width="3" height="10"/>
<rect x="495" y="38" width="1" height="45"/>
<rect x="494" y="55" width="3" height="21"/>
<rect x="499" y="63" width="1" height="15"/>
<rect x="498" y="67" width="3" height="9"/>
<rect x="503" y="52" width="1" height="18"/>
<rect x="502" y="58" width="3" height="10"/>
<rect x="507" y="54" width="1" height="18"/>
<rect x="506" y="57" width="3" height="2"/>
<rect x="511" y="47" width="1" height="12"/>
<rect x="510" y="47" width="3" height="11"/>
<rect x="515" y="42" width="1" height="10"/>
<rect x="514" y="46" width="3" height="2"/>
<rect x="519" y="39" width="1" height="11"/>
<rect x="518" y="43" width="3" height="5"/>
<rect x="523" y="39" width="1" height="11"/>
<rect x="522" y="43" width="3" height="5"/>
<rect x="527" y="36" width="1" height="32"/>
<rect x="526" y="47" width="3" height="2"/>
<rect x="531" y="46" width="1" height="25"/>
<rect x="530" y="47" width="3" height="17"/>
<rect x="535" y="62" width="1" height="15"/>
<rect x="534" y="63" width="3" height="4"/>
<rect x="539" y="67" width="1" height="13"/>
<rect x="538" y="67" width="3" height="11"/>
<rect x="543" y="75" width="1" height="11"/>
<rect x="542" y="77" width="3" height="3"/>
<rect x="547" y="76" width="1" height="13"/>
<rect x="546" y="80" width="3" height="3"/>
<rect x="551" y="72" width="1" height="13"/>
<rect x="550" y="74" width="3" height="9"/>
<rect x="555" y="59" width="1" height="17"/>
<rect x="554" y="61" width="3" height="15"/>
<rect x="559" y="56" width="1" height="7"/>
<rect x="558" y="58" width="3" height="5"/>
<rect x="563" y="53" width="1" height="12"/>
<rect x="562" y="58" width="3" height="5"/>
<rect x="567" y="43" width="1" height="20"/>
<rect x="566" y="48" width="3" height="15"/>
<rect x="571" y="20" width="1" height="30"/>
<rect x="570" y="25" width="3" height="25"/>
<rect x="575" y="21" width="1" height="16"/>
<rect x="574" y="25" width="3" height="7"/>
<rect x="579" y="27" width="1" height="14"/>
<rect x="578" y="31" width="3" height="2"/>
<rect x="583" y="28" width="1" height="26"/>
<rect x="582" y="30" width="3" height="3"/>
<rect x="587" y="23" width="1" height="14"/>
<rect x="586" y="30" width="3" height="4"/>
<rect x="591" y="27" width="1" height="20"/>
<rect x="590" y="33" width="3" height="12"/>
<rect x="595" y="39" width="1" height="13"/>
<rect x="594" y="44" width="3" height="3"/>
</g>
<g fill="#fff"><rect x="3" y="253" width="1" height="8"/><rect x="11" y="261" width="1" height="2"/><rect x="19" y="268" width="1" height="1"/><rect x="27" y="268" width="1" height="3"/><rect x="39" y="272" width="1" height="1"/><rect x="43" y="268" width="1" height="3"/><rect x="67" y="281" width="1" height="9"/><rect x="75" y="282" width="1" height="5"/><rect x="83" y="294" width="1" height="6"/><rect x="87" y="291" width="1" height="2"/><rect x="99" y="295" width="1" height="1"/><rect x="107" y="289" width="1" height="5"/><rect x="127" y="329" width="1" height="2"/><rect x="131" y="325" width="1" height="3"/><rect x="135" y="323" width="1" height="1"/><rect x="147" y="324" width="1" height="11"/><rect x="151" y="317" width="1" height="6"/><rect x="163" y="311" width="1" height="7"/><rect x="171" y="307" width="1" height="5"/><rect x="175" y="301" width="1" height="5"/><rect x="183" y="286" width="1" height="5"/><rect x="199" y="298" width="1" height="4"/><rect x="211" y="306" width="1" height="9"/><rect x="223" y="296" width="1" height="11"/><rect x="239" y="288" width="1" height="12"/><rect x="255" y="289" width="1" height="2"/><rect x="259" y="280" width="1" height="8"/><rect x="263" y="270" width="1" height="9"/><rect x="267" y="259" width="1" height="10"/><rect x="283" y="261" width="1" height="5"/><rect x="295" y="261" width="1" height="2"/><rect x="319" y="271" width="1" height="2"/><rect x="331" y="264" width="1" height="5"/><rect x="339" y="265" width="1" height="2"/><rect x="343" y="262" width="1" height="2"/><rect x="359" y="262" width="1" height="1"/><rect x="367" y="241" width="1" height="21"/><rect x="371" y="233" width="1" height="7"/><rect x="387" y="223" width="1" height="13"/><rect x="395" y="226" width="1" height="1"/><rect x="399" y="179" width="1" height="46"/><rect x="403" y="157" width="1" height="21"/><rect x="407" y="147" width="1" height="9"/><rect x="411" y="141" width="1" height="5"/><rect x="415" y="134" width="1" height="7"/><rect x="427" y="118" width="1" height="5"/><rect x="431" y="91" width="1" height="27"/><rect x="435" y="86" width="1" height="4"/><rect x="439" y="83" width="1" height="2"/><rect x="455" y="102" width="1" height="1"/><rect x="459" y="99" width="1" height="2"/><rect x="463" y="97" width="1" height="1"/><rect x="471" y="76" width="1" height="21"/><rect x="475" y="68" width="1" height="7"/><rect x="479" y="63" width="1" height="4"/><rect x="491" y="56" width="1" height="8"/><rect x="499" y="68" width="1" height="7"/><rect x="503" y="59" width="1" height="8"/><rect x="511" y="48" width="1" height="9"/><rect x="519" y="44" width="1" height="3"/><rect x="551" y="75" width="1" height="7"/><rect x="555" y="62" width="1" height="13"/><rect x="559" y="59" width="1" height="3"/><rect x="567" y="49" width="1" height="13"/><rect x="571" y="26" width="1" height="23"/><rect x="583" y="31" width="1" height="1"/></g>
<g fill="#c0c0c0">
<rect x="2" y="486" width="3" height="21"/>
<rect x="6" y="486" width="3" height="22"/>
<rect x="10" y="486" width="3" height="22"/>
<rect x="14" y="486" width="3" height="24"/>
<rect x="18" y="486" width="3" height="25"/>
<rect x="22" y="486" width="3" height="26"/>
<rect x="26" y="486" width="3" height="26"/>
<rect x="30" y="486" width="3" height="26"/>
<rect x="34" y="486" width="3" height="26"/>
<rect x="38" y="486" width="3" height="26"/>
<rect x="42" y="486" width="3" height="25"/>
<rect x="46" y="486" width="3" height="24"/>
<rect x="50" y="486" width="3" height="24"/>
<rect x="54" y="486" width="3" height="24"/>
<rect x="58" y="486" width="3" height="25"/>
<rect x="62" y="486" width="3" height="27"/>
<rect x="66" y="486" width="3" height="27"/>
<rect x="70" y="486" width="3" height="27"/>
<rect x="74" y="486" width="3" height="27"/>
<rect x="78" y="486" width="3" height="30"/>
<rect x="82" y="486" width="3" height="30"/>
<rect x="86" y="486" width="3" height="29"/>
<rect x="90" y="486" width="3" height="29"/>
<rect x="94" y="486" width="3" height="29"/>
<rect x="98" y="486" width="3" height="29"/>
<rect x="102" y="486" width="3" height="28"/>
<rect x="106" y="486" width="3" height="26"/>
<rect x="110" y="486" width="3" height="23"/>
<rect x="114" y="486" width="3" height="23"/>
<rect x="118" y="486" width="3" height="27"/>
<rect x="122" y="486" width="3" height="33"/>
<rect x="126" y="486" width="3" height="37"/>
<rect x="130" y="486" width="3" height="39"/>
<rect x="134" y="486" width="3" height="39"/>
<rect x="138" y="486" width="3" height="40"/>
<rect x="142" y="486" width="3" height="43"/>
<rect x="146" y="486" width="3" height="41"/>
<rect x="150" y="486" width="3" height="35"/>
<rect x="154" y="486" width="3" height="35"/>
<rect x="158" y="486" width="3" height="33"/>
<rect x="162" y="486" width="3" height="29"/>
<rect x="166" y="486" width="3" height="26"/>
<rect x="170" y="486" width="3" height="22"/>
<rect x="174" y="486" width="3" height="18"/>
<rect x="178" y="486" width="3" height="12"/>
<rect x="182" y="486" width="3" height="6"/>
<rect x="186" y="486" width="3" height="4"/>
<rect x="190" y="486" width="3" height="2"/>
<rect x="206" y="486" width="3" height="4"/>
<rect x="210" y="486" width="3" height="3"/>
<rect x="214" y="486" width="3" height="2"/>
<rect x="218" y="486" width="3" height="4"/>
<rect x="222" y="486" width="3" height="1"/>
<rect x="230" y="486" width="3" height="1"/>
<rect x="234" y="484" width="3" height="3"/>
<rect x="238" y="482" width="3" height="5"/>
<rect x="242" y="480" width="3" height="7"/>
<rect x="246" y="479" width="3" height="8"/>
<rect x="250" y="478" width="3" height="9"/>
<rect x="254" y="477" width="3" height="10"/>
<rect x="258" y="475" width="3" height="12"/>
<rect x="262" y="471" width="3" height="16"/>
<rect x="266" y="466" width="3" height="21"/>
<rect x="270" y="461" width="3" height="26"/>
<rect x="274" y="460" width="3" height="27"/>
<rect x="278" y="460" width="3" height="27"/>
<rect x="282" y="458" width="3" height="29"/>
<rect x="286" y="458" width="3" height="29"/>
<rect x="290" y="459" width="3" height="28"/>
<rect x="294" y="460" width="3" height="27"/>
<rect x="298" y="462" width="3" height="25"/>
<rect x="302" y="463" width="3" height="24"/>
<rect x="306" y="465" width="3" height="22"/>
<rect x="310" y="467" width="3" height="20"/>
<rect x="314" y="468" width="3" height="19"/>
<rect x="318" y="470" width="3" height="17"/>
<rect x="322" y="471" width="3" height="16"/>
<rect x="326" y="472" width="3" height="15"/>
<rect x="330" y="472" width="3" height="15"/>
<rect x="334" y="472" width="3" height="15"/>
<rect x="338" y="473" width="3" height="14"/>
<rect x="342" y="472" width="3" height="15"/>
<rect x="346" y="473" width="3" height="14"/>
<rect x="350" y="473" width="3" height="14"/>
<rect x="354" y="473" width="3" height="14"/>
<rect x="358" y="473" width="3" height="14"/>
<rect x="362" y="472" width="3" height="15"/>
<rect x="366" y="469" width="3" height="18"/>
<rect x="370" y="465" width="3" height="22"/>
<rect x="374" y="461" width="3" height="26"/>
<rect x="378" y="459" width="3" height="28"/>
<rect x="382" y="458" width="3" height="29"/>
<rect x="386" y="455" width="3" height="32"/>
<rect x="390" y="454" width="3" height="33"/>
<rect x="394" y="453" width="3" height="34"/>
<rect x="398" y="442" width="3" height="45"/>
<rect x="402" y="430" width="3" height="57"/>
<rect x="406" y="419" width="3" height="68"/>
<rect x="410" y="409" width="3" height="78"/>
<rect x="414" y="402" width="3" height="85"/>
<rect x="418" y="394" width="3" height="93"/>
<rect x="422" y="390" width="3" height="97"/>
<rect x="426" y="386" width="3" height="101"/>
<rect x="430" y="378" width="3" height="109"/>
<rect x="434" y="372" width="3" height="115"/>
<rect x="438" y="368" width="3" height="119"/>
<rect x="442" y="370" width="3" height="117"/>
<rect x="446" y="373" width="3" height="114"/>
<rect x="450" y="379" width="3" height="108"/>
<rect x="454" y="382" width="3" height="105"/>
<rect x="458" y="386" width="3" height="101"/>
<rect x="462" y="389" width="3" height="98"/>
<rect x="466" y="393" width="3" height="94"/>
<rect x="470" y="393" width="3" height="94"/>
<rect x="474" y="392" width="3" height="95"/>
<rect x="478" y="392" width="3" height="95"/>
<rect x="482" y="393" width="3" height="94"/>
<rect x="486" y="394" width="3" height="93"/>
<rect x="490" y="395" width="3" height="92"/>
<rect x="494" y="402" width="3" height="85"/>
<rect x="498" y="405" width="3" height="82"/>
<rect x="502" y="407" width="3" height="80"/>
<rect x="506" y="409" width="3" height="78"/>
<rect x="510" y="410" width="3" height="77"/>
<rect x="514" y="410" width="3" height="77"/>
<rect x="518" y="412" width="3" height="75"/>
<rect x="522" y="415" width="3" height="72"/>
<rect x="526" y="417" width="3" height="70"/>
<rect x="530" y="423" width="3" height="64"/>
<rect x="534" y="429" width="3" height="58"/>
<rect x="538" y="437" width="3" height="50"/>
<rect x="542" y="445" width="3" height="42"/>
<rect x="546" y="453" width="3" height="34"/>
<rect x="550" y="457" width="3" height="30"/>
<rect x="554" y="457" width="3" height="30"/>
<rect x="558" y="458" width="3" height="29"/>
<rect x="562" y="459" width="3" height="28"/>
<rect x="566" y="457" width="3" height="30"/>
<rect x="570" y="453" width="3" height="34"/>
<rect x="574" y="448" width="3" height="39"/>
<rect x="578" y="447" width="3" height="40"/>
<rect x="582" y="446" width="3" height="41"/>
<rect x="586" y="446" width="3" height="41"/>
<rect x="590" y="449" width="3" height="38"/>
<rect x="594" y="451" width="3" height="36"/>
</g>
<polyline points="3.5,504.2 10.5,506 20.5,507.7 35.9,509.7 55.1,509.7 58.1,509 61.2,510 78.7,509.8 92.8,513.5 115.1,513.5 119.1,512.5 125.2,513.1 139.3,517.5 150.5,522.6 163.6,522.6 174.7,517.9 185.9,507.4 200,495.3 208.5,490.8 212.6,489 218.7,488 232.9,487.6 245,486.2 259.2,481.6 267.2,477.5 277.4,471.5 287.5,465.4 297.6,460.7 305.7,460 313.8,461.8 323.9,464.4 334,468.4 344.5,471 348.6,471.7 370.9,471.7 379,469.8 395.2,462.1 405.3,452 417.4,434.8 427.5,414.6 437.6,395.4 447.7,382.2 455.8,377.8 463.9,377.8 472,381.8 480.5,386.7 484.6,390 496.8,394.8 506.9,398 519,403.5 533.2,411.6 541.3,418.7 549.4,427.8 557.5,437.9 565.5,448 571.6,452.6 582.7,452.6 589.8,451 595.9,449.6" stroke="#ff0000" stroke-width="2" fill="none" stroke-linejoin="round"/>
<path fill="#ff0000" d="M454 566h1v2h-1zM543 649h1v1h-1zM543 653h1v2h-1zM50 661h1v2h-1zM482 556h1v2h-1zM210 623h1v1h-1zM30 674h1v1h-1zM554 680h1v2h-1zM203 593h1v2h-1zM41 671h1v1h-1zM372 560h1v1h-1zM567 619h1v3h-1zM181 565h1v3h-1zM103 672h1v2h-1zM444 548h1v1h-1zM527 563h1v2h-1zM428 549h1v1h-1zM185 553h1v2h-1zM119 626h1v1h-1zM312 603h1v1h-1zM563 637h1v3h-1zM562 643h1v3h-1zM228 625h1v3h-1zM110 653h1v1h-1zM133 664h1v1h-1zM518 573h1v1h-1zM122 636h1v3h-1zM347 591h1v3h-1zM200 582h1v2h-1zM503 593h1v1h-1zM83 671h1v2h-1zM11 665h1v1h-1zM537 606h1v2h-1zM537 611h1v3h-1zM468 590h1v1h-1zM351 580h1v2h-1zM236 603h1v1h-1zM397 557h1v1h-1zM558 662h1v2h-1zM571 601h1v3h-1zM319 637h1v2h-1zM492 556h1v2h-1zM70 683h1v1h-1zM367 570h1v1h-1zM313 607h1v3h-1zM451 560h1v1h-1zM253 566h1v1h-1zM240 595h1v2h-1zM566 625h1v2h-1zM244 584h1v2h-1zM60 672h1v3h-1zM496 567h1v2h-1zM298 573h1v1h-1zM382 554h1v1h-1zM136 660h1v1h-1zM196 570h1v2h-1zM248 572h1v2h-1zM163 632h1v1h-1zM175 596h1v2h-1zM175 601h1v1h-1zM272 548h1v1h-1zM546 667h1v1h-1zM546 671h1v2h-1zM355 573h1v1h-1zM510 596h1v1h-1zM86 677h1v2h-1zM3 670h1v1h-1zM151 657h1v1h-1zM575 584h1v2h-1zM561 649h1v3h-1zM514 584h1v2h-1zM199 581h1v1h-1zM502 591h1v2h-1zM420 549h1v1h-1zM125 649h1v2h-1zM404 550h1v1h-1zM63 684h1v1h-1zM114 630h1v2h-1zM338 621h1v3h-1zM276 550h1v2h-1zM476 573h1v3h-1zM159 639h1v1h-1zM308 590h1v2h-1zM570 607h1v3h-1zM74 671h1v3h-1zM56 662h1v1h-1zM532 581h1v2h-1zM113 635h1v3h-1zM330 651h1v1h-1zM206 605h1v2h-1zM533 583h1v1h-1zM533 587h1v1h-1zM79 669h1v1h-1zM180 571h1v2h-1zM209 617h1v3h-1zM334 639h1v1h-1zM104 671h1v1h-1zM205 599h1v3h-1zM108 659h1v3h-1zM147 659h1v1h-1zM457 573h1v2h-1zM55 660h1v2h-1zM97 676h1v1h-1zM5 669h1v1h-1zM472 585h1v2h-1zM155 649h1v2h-1zM267 553h1v1h-1zM124 643h1v2h-1zM124 648h1v1h-1zM192 557h1v3h-1zM184 555h1v1h-1zM556 673h1v3h-1zM170 619h1v2h-1zM232 613h1v1h-1zM370 564h1v2h-1zM318 631h1v3h-1zM212 629h1v3h-1zM449 555h1v2h-1zM109 654h1v2h-1zM195 569h1v1h-1zM583 565h1v1h-1zM460 580h1v1h-1zM282 563h1v2h-1zM263 560h1v1h-1zM577 577h1v3h-1zM314 613h1v2h-1zM146 658h1v1h-1zM69 684h1v2h-1zM243 589h1v2h-1zM286 570h1v1h-1zM315 615h1v1h-1zM315 619h1v1h-1zM127 660h1v3h-1zM117 627h1v1h-1zM488 552h1v1h-1zM579 571h1v2h-1zM536 599h1v3h-1zM536 605h1v1h-1zM329 652h1v2h-1zM498 573h1v3h-1zM223 643h1v2h-1zM16 669h1v1h-1zM551 684h1v2h-1zM573 595h1v2h-1zM513 589h1v2h-1zM290 572h1v1h-1zM342 609h1v2h-1zM333 640h1v2h-1zM354 574h1v2h-1zM239 597h1v1h-1zM548 677h1v2h-1zM112 641h1v3h-1zM17 670h1v1h-1zM123 642h1v1h-1zM9 666h1v1h-1zM321 643h1v3h-1zM332 645h1v3h-1zM452 561h1v2h-1zM565 627h1v1h-1zM565 631h1v1h-1zM445 549h1v1h-1zM528 565h1v1h-1zM285 568h1v2h-1zM73 677h1v1h-1zM446 550h1v1h-1zM438 546h1v1h-1zM361 573h1v1h-1zM459 578h1v2h-1zM509 597h1v1h-1zM281 562h1v1h-1zM467 591h1v1h-1zM35 668h1v1h-1zM251 567h1v1h-1zM456 572h1v1h-1zM226 632h1v2h-1zM174 602h1v2h-1zM36 669h1v1h-1zM230 619h1v2h-1zM377 553h1v1h-1zM92 677h1v1h-1zM574 589h1v3h-1zM568 614h1v2h-1zM182 560h1v2h-1zM234 608h1v2h-1zM336 628h1v2h-1zM474 580h1v2h-1zM157 643h1v3h-1zM211 624h1v2h-1zM426 549h1v1h-1zM325 655h1v1h-1zM20 674h1v2h-1zM258 565h1v1h-1zM349 585h1v3h-1zM340 615h1v2h-1zM126 654h1v3h-1zM478 567h1v2h-1zM538 617h1v3h-1zM23 680h1v1h-1zM120 630h1v2h-1zM415 548h1v1h-1zM448 554h1v1h-1zM99 675h1v1h-1zM142 655h1v1h-1zM177 584h1v2h-1zM177 589h1v1h-1zM111 647h1v3h-1zM162 633h1v1h-1zM292 572h1v1h-1zM535 593h1v3h-1zM201 587h1v2h-1zM42 671h1v1h-1zM383 555h1v1h-1zM246 577h1v3h-1zM266 554h1v2h-1zM84 673h1v1h-1zM231 614h1v2h-1zM531 575h1v3h-1zM64 685h1v1h-1zM107 665h1v1h-1zM310 596h1v2h-1zM560 655h1v2h-1zM77 669h1v1h-1zM344 603h1v2h-1zM414 547h1v1h-1zM168 625h1v1h-1zM486 553h1v1h-1zM172 613h1v1h-1zM262 561h1v1h-1zM46 668h1v1h-1zM523 565h1v1h-1zM534 588h1v2h-1zM541 635h1v3h-1zM541 641h1v1h-1zM317 625h1v3h-1zM213 635h1v3h-1zM335 633h1v3h-1zM403 550h1v1h-1zM592 574h1v2h-1zM169 621h1v1h-1zM72 678h1v2h-1zM519 571h1v2h-1zM225 637h1v2h-1zM173 607h1v3h-1zM511 595h1v1h-1zM540 629h1v3h-1zM421 549h1v1h-1zM189 552h1v2h-1zM398 556h1v1h-1zM197 575h1v1h-1zM501 585h1v3h-1zM207 607h1v1h-1zM306 585h1v1h-1zM160 637h1v2h-1zM106 666h1v2h-1zM25 679h1v1h-1zM555 679h1v1h-1zM352 579h1v1h-1zM594 579h1v1h-1zM386 559h1v1h-1zM500 580h1v2h-1zM572 597h1v1h-1zM217 647h1v1h-1zM229 621h1v1h-1zM587 567h1v1h-1zM595 580h1v1h-1zM387 560h1v1h-1zM164 631h1v1h-1zM588 568h1v1h-1zM323 651h1v1h-1zM137 658h1v2h-1zM515 583h1v1h-1zM316 620h1v2h-1zM409 547h1v1h-1zM237 601h1v2h-1zM327 657h1v1h-1zM375 554h1v1h-1zM549 679h1v1h-1zM132 665h1v1h-1zM305 583h1v2h-1zM302 578h1v1h-1zM462 584h1v2h-1zM393 562h1v1h-1zM539 623h1v3h-1zM499 579h1v1h-1zM245 583h1v1h-1zM591 573h1v1h-1zM309 595h1v1h-1zM557 667h1v3h-1zM339 617h1v1h-1zM148 659h1v1h-1zM477 569h1v1h-1zM140 655h1v1h-1zM249 571h1v1h-1zM322 649h1v2h-1zM98 676h1v1h-1zM48 666h1v1h-1zM40 671h1v1h-1zM326 656h1v1h-1zM21 676h1v1h-1zM432 548h1v1h-1zM530 571h1v1h-1zM10 666h1v1h-1zM202 589h1v1h-1zM118 626h1v1h-1zM480 561h1v1h-1zM301 577h1v1h-1zM176 590h1v2h-1zM176 595h1v1h-1zM542 642h1v2h-1zM542 647h1v2h-1zM366 571h1v1h-1zM495 562h1v2h-1zM252 567h1v1h-1zM29 675h1v1h-1zM167 626h1v2h-1zM264 559h1v1h-1zM279 556h1v2h-1zM506 599h1v1h-1zM582 566h1v2h-1zM171 614h1v2h-1zM93 677h1v1h-1zM529 569h1v2h-1zM121 632h1v1h-1zM198 576h1v2h-1zM427 549h1v1h-1zM179 573h1v1h-1zM179 577h1v1h-1zM188 551h1v1h-1zM522 566h1v2h-1zM227 631h1v1h-1zM346 597h1v1h-1zM416 548h1v1h-1zM215 642h1v2h-1zM439 546h1v1h-1zM208 611h1v3h-1zM471 587h1v1h-1zM154 651h1v1h-1zM494 561h1v1h-1zM369 566h1v1h-1zM62 679h1v2h-1zM517 577h1v1h-1zM545 661h1v1h-1zM545 665h1v2h-1zM259 565h1v1h-1zM235 607h1v1h-1zM373 558h1v2h-1zM271 548h1v1h-1zM78 669h1v1h-1zM311 601h1v2h-1zM475 579h1v1h-1zM218 648h1v1h-1zM544 655h1v1h-1zM544 659h1v2h-1zM578 573h1v1h-1zM434 547h1v1h-1zM505 597h1v2h-1zM381 553h1v1h-1zM194 564h1v2h-1zM219 649h1v1h-1zM222 645h1v1h-1zM341 611h1v1h-1zM479 562h1v2h-1zM65 685h1v1h-1zM388 561h1v1h-1zM345 598h1v2h-1zM408 548h1v1h-1zM47 667h1v1h-1zM491 555h1v1h-1zM589 569h1v1h-1zM131 666h1v1h-1zM296 572h1v1h-1zM61 678h1v1h-1zM297 573h1v1h-1zM31 673h1v1h-1zM392 563h1v1h-1zM337 627h1v1h-1zM51 660h1v1h-1zM569 613h1v1h-1zM141 655h1v1h-1zM24 679h1v1h-1zM303 579h1v1h-1zM214 641h1v1h-1zM365 572h1v1h-1zM483 555h1v1h-1zM512 591h1v1h-1zM58 667h1v2h-1zM516 578h1v2h-1zM487 552h1v1h-1zM4 669h1v1h-1zM564 632h1v2h-1zM178 578h1v2h-1zM178 583h1v1h-1zM242 591h1v1h-1zM410 547h1v1h-1zM422 549h1v1h-1zM307 589h1v1h-1zM463 586h1v1h-1zM183 559h1v1h-1zM193 563h1v1h-1zM559 657h1v1h-1zM559 661h1v1h-1zM57 666h1v1h-1zM152 655h1v2h-1zM455 568h1v1h-1zM277 552h1v1h-1zM204 595h1v1h-1zM34 669h1v1h-1zM291 572h1v1h-1zM270 549h1v1h-1zM359 572h1v1h-1zM115 629h1v1h-1zM433 548h1v1h-1zM399 555h1v1h-1zM91 677h1v1h-1zM402 551h1v1h-1zM497 569h1v1h-1zM224 639h1v1h-1zM360 572h1v1h-1zM466 590h1v1h-1zM547 673h1v1h-1zM280 558h1v1h-1zM87 679h1v1h-1zM257 565h1v1h-1zM343 605h1v1h-1zM376 553h1v1h-1zM394 561h1v1h-1zM440 546h1v1h-1zM320 639h1v1h-1zM15 668h1v1h-1zM576 583h1v1h-1zM550 683h1v1h-1z"/>
<path fill="#20b2aa" d="M390 563h1v1h-1zM524 563h1v1h-1zM380 555h1v3h-1zM558 638h1v6h-1zM160 631h1v1h-1zM72 666h1v3h-1zM118 632h1v10h-1zM507 593h1v3h-1zM339 602h1v4h-1zM272 547h1v3h-1zM572 577h1v5h-1zM226 617h1v4h-1zM312 618h1v6h-1zM49 656h1v1h-1zM238 592h1v4h-1zM216 652h1v3h-1zM26 671h1v3h-1zM133 655h1v2h-1zM542 669h1v6h-1zM543 675h1v5h-1zM276 558h1v3h-1zM447 558h1v2h-1zM205 614h1v7h-1zM236 600h1v4h-1zM444 552h1v2h-1zM536 628h1v8h-1zM45 661h1v4h-1zM532 599h1v7h-1zM14 672h1v5h-1zM121 654h1v5h-1zM450 566h1v3h-1zM549 689h1v2h-1zM152 645h1v4h-1zM493 564h1v6h-1zM451 569h1v3h-1zM326 653h1v3h-1zM124 668h1v2h-1zM94 676h1v1h-1zM127 673h1v2h-1zM221 637h1v3h-1zM172 591h1v6h-1zM539 652h1v6h-1zM457 583h1v2h-1zM195 582h1v3h-1zM309 605h1v4h-1zM355 573h1v1h-1zM37 672h1v2h-1zM78 672h1v5h-1zM594 587h1v4h-1zM198 589h1v2h-1zM458 585h1v2h-1zM322 661h1v2h-1zM535 621h1v7h-1zM71 669h1v2h-1zM184 547h1v2h-1zM371 553h1v2h-1zM506 596h1v4h-1zM202 599h1v3h-1zM571 582h1v5h-1zM25 674h1v4h-1zM215 655h1v2h-1zM67 677h1v4h-1zM132 657h1v2h-1zM366 564h1v3h-1zM314 630h1v6h-1zM6 666h1v1h-1zM167 620h1v3h-1zM579 564h1v1h-1zM44 665h1v3h-1zM279 567h1v2h-1zM545 684h1v5h-1zM538 644h1v8h-1zM575 565h1v3h-1zM333 624h1v3h-1zM97 676h1v1h-1zM525 564h1v2h-1zM59 685h1v3h-1zM526 566h1v1h-1zM464 591h1v1h-1zM495 576h1v6h-1zM105 657h1v5h-1zM62 694h1v3h-1zM175 573h1v6h-1zM85 679h1v1h-1zM271 545h1v2h-1zM70 671h1v2h-1zM9 662h1v2h-1zM110 628h1v6h-1zM565 612h1v3h-1zM472 572h1v4h-1zM155 636h1v2h-1zM401 548h1v2h-1zM347 576h1v4h-1zM338 606h1v4h-1zM434 545h1v1h-1zM143 660h1v2h-1zM552 675h1v6h-1zM445 554h1v2h-1zM108 640h1v6h-1zM297 575h1v2h-1zM300 580h1v2h-1zM23 681h1v2h-1zM204 607h1v7h-1zM430 547h1v1h-1zM120 649h1v5h-1zM301 582h1v2h-1zM345 584h1v5h-1zM55 669h1v4h-1zM290 572h1v1h-1zM577 565h1v1h-1zM5 667h1v2h-1zM562 622h1v4h-1zM17 679h1v1h-1zM116 613h1v10h-1zM307 597h1v4h-1zM520 561h1v1h-1zM317 645h1v4h-1zM74 660h1v3h-1zM509 586h1v4h-1zM459 587h1v1h-1zM342 596h1v2h-1zM456 581h1v2h-1zM320 657h1v2h-1zM419 550h1v1h-1zM460 588h1v1h-1zM77 666h1v6h-1zM516 568h1v3h-1zM170 603h1v6h-1zM210 640h1v4h-1zM219 644h1v3h-1zM174 579h1v6h-1zM119 642h1v7h-1zM500 598h1v4h-1zM551 681h1v5h-1zM154 638h1v4h-1zM274 552h1v3h-1zM214 652h1v3h-1zM501 602h1v3h-1zM504 604h1v4h-1zM336 614h1v4h-1zM556 651h1v6h-1zM537 636h1v8h-1zM107 646h1v6h-1zM278 564h1v3h-1zM560 629h1v4h-1zM281 570h1v2h-1zM165 624h1v2h-1zM65 686h1v5h-1zM421 550h1v1h-1zM112 618h1v4h-1zM58 681h1v4h-1zM149 655h1v4h-1zM126 672h1v2h-1zM341 598h1v2h-1zM373 550h1v2h-1zM573 573h1v4h-1zM310 609h1v4h-1zM540 658h1v6h-1zM203 602h1v5h-1zM103 667h1v3h-1zM169 609h1v5h-1zM530 585h1v7h-1zM12 663h1v5h-1zM299 578h1v2h-1zM531 592h1v7h-1zM512 578h1v2h-1zM470 581h1v4h-1zM18 680h1v1h-1zM588 572h1v2h-1zM335 618h1v4h-1zM555 657h1v6h-1zM306 594h1v3h-1zM95 676h1v1h-1zM316 641h1v4h-1zM193 573h1v5h-1zM76 661h1v5h-1zM177 560h1v7h-1zM82 678h1v1h-1zM209 637h1v3h-1zM474 564h1v4h-1zM147 662h1v2h-1zM368 559h1v2h-1zM273 550h1v2h-1zM21 681h1v1h-1zM168 614h1v6h-1zM173 585h1v6h-1zM56 673h1v4h-1zM22 681h1v1h-1zM511 580h1v3h-1zM554 663h1v6h-1zM351 569h1v1h-1zM41 672h1v2h-1zM416 549h1v1h-1zM33 668h1v1h-1zM106 652h1v5h-1zM519 561h1v2h-1zM86 679h1v1h-1zM199 591h1v2h-1zM52 657h1v4h-1zM10 661h1v1h-1zM329 638h1v6h-1zM268 547h1v1h-1zM557 644h1v7h-1zM191 565h1v4h-1zM431 546h1v1h-1zM586 569h1v1h-1zM114 610h1v4h-1zM502 605h1v4h-1zM286 573h1v1h-1zM232 601h1v2h-1zM315 636h1v5h-1zM593 584h1v3h-1zM477 554h1v3h-1zM522 562h1v1h-1zM228 609h1v4h-1zM389 563h1v1h-1zM240 583h1v4h-1zM420 550h1v1h-1zM324 660h1v3h-1zM518 563h1v3h-1zM350 570h1v2h-1zM40 674h1v2h-1zM381 558h1v3h-1zM528 571h1v7h-1zM553 669h1v6h-1zM139 652h1v2h-1zM529 578h1v7h-1zM498 590h1v4h-1zM330 633h1v5h-1zM570 587h1v6h-1zM446 556h1v2h-1zM66 681h1v5h-1zM365 567h1v3h-1zM92 675h1v1h-1zM452 572h1v2h-1zM476 557h1v4h-1zM117 623h1v9h-1zM161 629h1v2h-1zM194 578h1v4h-1zM467 593h1v3h-1zM353 571h1v1h-1zM354 572h1v1h-1zM197 587h1v2h-1zM321 659h1v2h-1zM158 633h1v1h-1zM104 662h1v5h-1zM218 647h1v3h-1zM183 546h1v1h-1zM51 655h1v2h-1zM211 644h1v3h-1zM471 576h1v5h-1zM47 656h1v2h-1zM189 558h1v4h-1zM491 554h1v4h-1zM190 562h1v3h-1zM19 680h1v1h-1zM234 604h1v2h-1zM569 593h1v5h-1zM327 649h1v4h-1zM364 570h1v3h-1zM96 676h1v1h-1zM206 621h1v7h-1zM462 589h1v1h-1zM207 628h1v5h-1zM414 549h1v1h-1zM534 614h1v7h-1zM83 678h1v1h-1zM372 552h1v1h-1zM463 590h1v1h-1zM217 650h1v2h-1zM576 565h1v1h-1zM98 675h1v1h-1zM178 554h1v6h-1zM284 573h1v1h-1zM230 602h1v4h-1zM15 677h1v3h-1zM242 575h1v4h-1zM122 659h1v5h-1zM559 633h1v5h-1zM417 549h1v1h-1zM111 622h1v6h-1zM418 550h1v1h-1zM595 591h1v2h-1zM137 652h1v1h-1zM225 621h1v4h-1zM499 594h1v4h-1zM367 561h1v3h-1zM265 549h1v2h-1zM102 670h1v2h-1zM432 546h1v1h-1zM287 573h1v1h-1zM428 548h1v1h-1zM394 555h1v2h-1zM3 670h1v1h-1zM546 689h1v4h-1zM129 666h1v3h-1zM469 585h1v4h-1zM261 555h1v2h-1zM533 606h1v8h-1zM220 640h1v4h-1zM567 604h1v4h-1zM465 592h1v2h-1zM257 563h1v2h-1zM480 549h1v1h-1zM245 566h1v3h-1zM492 558h1v6h-1zM166 623h1v1h-1zM393 557h1v2h-1zM590 576h1v2h-1zM318 649h1v4h-1zM35 669h1v1h-1zM388 564h1v1h-1zM36 670h1v2h-1zM208 633h1v4h-1zM412 548h1v1h-1zM346 580h1v4h-1zM275 555h1v3h-1zM544 680h1v4h-1zM20 680h1v1h-1zM223 629h1v4h-1zM449 563h1v3h-1zM235 604h1v3h-1zM113 614h1v4h-1zM494 570h1v6h-1zM548 691h1v3h-1zM123 664h1v4h-1zM73 663h1v3h-1zM171 597h1v6h-1zM466 594h1v1h-1zM84 678h1v1h-1zM227 613h1v4h-1zM239 587h1v5h-1zM80 679h1v1h-1zM182 547h1v1h-1zM541 664h1v5h-1zM490 555h1v1h-1zM179 550h1v4h-1zM483 552h1v1h-1zM231 600h1v2h-1zM592 580h1v4h-1zM547 693h1v3h-1zM356 573h1v1h-1zM30 668h1v1h-1zM340 600h1v2h-1zM138 652h1v1h-1zM564 615h1v4h-1zM313 624h1v6h-1zM280 569h1v1h-1zM328 644h1v5h-1zM429 548h1v1h-1zM344 589h1v4h-1zM454 577h1v2h-1zM568 598h1v6h-1zM409 547h1v1h-1zM319 653h1v4h-1zM79 677h1v3h-1zM323 663h1v2h-1zM185 549h1v2h-1zM237 596h1v4h-1zM485 554h1v2h-1zM101 672h1v1h-1zM7 665h1v1h-1zM260 557h1v2h-1zM151 649h1v3h-1zM241 579h1v4h-1zM90 676h1v1h-1zM159 632h1v1h-1zM413 548h1v1h-1zM385 565h1v1h-1zM140 654h1v2h-1zM400 550h1v1h-1zM48 656h1v1h-1zM453 574h1v3h-1zM308 601h1v4h-1zM176 567h1v6h-1zM255 567h1v2h-1zM201 596h1v3h-1zM566 608h1v4h-1zM404 546h1v1h-1zM81 679h1v1h-1zM109 634h1v6h-1zM187 553h1v2h-1zM487 557h1v1h-1zM561 626h1v3h-1zM61 691h1v3h-1zM31 668h1v1h-1zM407 546h1v1h-1zM134 653h1v2h-1zM266 548h1v1h-1zM54 665h1v4h-1zM479 548h1v2h-1zM153 642h1v3h-1zM448 560h1v3h-1zM303 586h1v2h-1zM376 549h1v1h-1zM34 669h1v1h-1zM64 691h1v5h-1zM38 674h1v2h-1zM332 627h1v2h-1zM200 593h1v3h-1zM383 564h1v2h-1zM349 572h1v2h-1zM247 561h1v2h-1zM440 546h1v1h-1zM295 573h1v1h-1zM233 603h1v1h-1zM478 550h1v4h-1zM584 568h1v1h-1zM60 688h1v3h-1zM527 567h1v4h-1zM331 629h1v4h-1zM473 568h1v4h-1zM348 574h1v2h-1zM11 660h1v3h-1zM515 571h1v3h-1zM397 552h1v1h-1zM53 661h1v4h-1zM563 619h1v3h-1zM481 550h1v1h-1zM302 584h1v2h-1zM192 569h1v4h-1zM75 658h1v3h-1zM93 675h1v1h-1zM468 589h1v4h-1zM163 627h1v1h-1zM128 669h1v4h-1zM343 593h1v3h-1zM591 578h1v2h-1zM89 677h1v2h-1zM405 546h1v1h-1zM256 565h1v2h-1zM248 562h1v1h-1zM382 561h1v3h-1zM442 549h1v1h-1zM180 549h1v1h-1zM514 574h1v2h-1zM443 550h1v2h-1zM244 569h1v3h-1zM435 545h1v1h-1zM325 656h1v4h-1zM415 549h1v1h-1zM32 668h1v1h-1zM408 546h1v1h-1zM311 613h1v5h-1zM146 662h1v1h-1zM135 652h1v1h-1zM505 600h1v4h-1zM370 555h1v2h-1zM13 668h1v4h-1zM513 576h1v2h-1zM131 659h1v3h-1zM426 549h1v1h-1zM285 573h1v1h-1zM222 633h1v4h-1zM574 568h1v5h-1zM475 561h1v3h-1zM497 586h1v4h-1zM250 565h1v1h-1zM384 565h1v1h-1zM251 566h1v1h-1zM142 658h1v2h-1zM69 673h1v2h-1zM8 664h1v1h-1zM337 610h1v4h-1zM130 662h1v4h-1zM57 677h1v4h-1zM91 675h1v1h-1zM42 670h1v2h-1zM455 579h1v2h-1zM508 590h1v3h-1zM386 564h1v1h-1zM213 650h1v2h-1zM46 658h1v3h-1zM186 551h1v2h-1zM68 675h1v2h-1zM115 608h1v5h-1zM503 608h1v3h-1zM229 606h1v3h-1zM164 626h1v1h-1zM125 670h1v2h-1zM63 696h1v3h-1zM496 582h1v4h-1zM148 659h1v3h-1zM156 635h1v1h-1zM181 548h1v1h-1zM488 556h1v1h-1zM224 625h1v4h-1zM436 545h1v1h-1zM282 572h1v1h-1zM587 570h1v2h-1zM305 591h1v3h-1zM283 573h1v1h-1zM375 548h1v1h-1zM28 669h1v1h-1zM136 652h1v1h-1zM438 545h1v1h-1zM212 647h1v3h-1zM188 555h1v3h-1zM484 553h1v1h-1zM294 572h1v1h-1zM510 583h1v3h-1zM334 622h1v2h-1zM24 678h1v3h-1zM263 552h1v1h-1zM100 673h1v2h-1zM243 572h1v3h-1zM304 588h1v3h-1zM43 668h1v2h-1zM259 559h1v2h-1zM150 652h1v3h-1zM387 564h1v1h-1zM377 550h1v2h-1zM410 547h1v1h-1zM411 548h1v1h-1zM517 566h1v2h-1zM39 676h1v1h-1zM441 547h1v2h-1zM399 551h1v1h-1zM277 561h1v3h-1zM395 553h1v2h-1zM262 553h1v2h-1zM258 561h1v2h-1zM196 585h1v2h-1zM253 567h1v1h-1zM27 669h1v2h-1zM246 563h1v3h-1zM489 556h1v1h-1zM291 571h1v1h-1zM437 545h1v1h-1zM550 686h1v3h-1zM363 573h1v2h-1zM378 552h1v1h-1zM379 553h1v2h-1zM29 669h1v1h-1zM439 545h1v1h-1zM249 563h1v2h-1zM298 577h1v1h-1zM423 549h1v1h-1zM374 549h1v1h-1zM264 551h1v1h-1zM296 574h1v1h-1zM369 557h1v2h-1zM267 547h1v1h-1zM585 569h1v1h-1zM396 553h1v1h-1zM99 675h1v1h-1zM589 574h1v2h-1zM392 559h1v2h-1zM521 561h1v1h-1zM88 679h1v1h-1zM162 628h1v1h-1zM254 567h1v1h-1zM157 634h1v1h-1zM269 546h1v1h-1zM403 546h1v1h-1zM292 571h1v1h-1zM398 552h1v1h-1zM482 551h1v1h-1zM433 546h1v1h-1zM580 565h1v1h-1zM288 573h1v1h-1zM581 566h1v1h-1zM359 574h1v1h-1zM391 561h1v2h-1zM360 574h1v1h-1zM352 570h1v1h-1zM406 546h1v1h-1zM141 656h1v2h-1zM50 655h1v1h-1zM424 549h1v1h-1zM362 574h1v1h-1zM461 588h1v1h-1zM293 572h1v1h-1zM582 567h1v1h-1zM583 568h1v1h-1zM427 549h1v1h-1zM252 566h1v1h-1zM578 564h1v1h-1zM357 573h1v1h-1zM358 574h1v1h-1zM270 546h1v1h-1zM486 556h1v1h-1zM4 669h1v1h-1zM289 572h1v1h-1zM16 679h1v1h-1zM422 549h1v1h-1zM87 680h1v1h-1zM361 574h1v1h-1zM144 661h1v1h-1zM402 547h1v1h-1zM145 662h1v1h-1zM425 549h1v1h-1zM523 562h1v1h-1z"/>
<g fill="#000">
<rect x="2" y="2" width="668" height="1"/>
<rect x="2" y="357" width="668" height="1"/>
<rect x="2" y="2" width="1" height="356"/>
<rect x="669" y="2" width="1" height="356"/>
<rect x="2" y="359" width="668" height="1"/>
<rect x="2" y="536" width="668" height="1"/>
<rect x="2" y="359" width="1" height="178"/>
<rect x="669" y="359" width="1" height="178"/>
<rect x="2" y="538" width="668" height="1"/>
<rect x="2" y="714" width="668" height="1"/>
<rect x="2" y="538" width="1" height="177"/>
<rect x="669" y="538" width="1" height="177"/>
<rect x="670" y="24" width="2" height="1"/>
<rect x="670" y="57" width="2" height="1"/>
<rect x="670" y="90" width="2" height="1"/>
<rect x="670" y="123" width="2" height="1"/>
<rect x="670" y="156" width="2" height="1"/>
<rect x="670" y="189" width="2" height="1"/>
<rect x="670" y="222" width="2" height="1"/>
<rect x="670" y="255" width="2" height="1"/>
<rect x="670" y="288" width="2" height="1"/>
<rect x="670" y="321" width="2" height="1"/>
<rect x="670" y="354" width="2" height="1"/>
<rect x="670" y="46" width="2" height="1"/>
<rect x="670" y="361" width="1" height="1"/>
<rect x="670" y="486" width="1" height="1"/>
<rect x="670" y="535" width="1" height="1"/>
<rect x="670" y="540" width="1" height="1"/>
<rect x="670" y="714" width="1" height="1"/>
<rect x="3" y="715" width="1" height="3"/>
<rect x="67" y="715" width="1" height="3"/>
<rect x="131" y="715" width="1" height="3"/>
<rect x="195" y="715" width="1" height="3"/>
<rect x="259" y="715" width="1" height="3"/>
<rect x="323" y="715" width="1" height="3"/>
<rect x="387" y="715" width="1" height="3"/>
<rect x="451" y="715" width="1" height="3"/>
<rect x="515" y="715" width="1" height="3"/>
<rect x="579" y="715" width="1" height="3"/>
<rect x="6" y="9" width="7" height="1"/><rect x="7" y="10" width="5" height="1"/><rect x="8" y="11" width="3" height="1"/><rect x="9" y="12" width="1" height="1"/>
</g>
<text x="675" y="126" font-size="10" fill="#000" stroke="#000" stroke-width="0.15" textLength="33.4" lengthAdjust="spacingAndGlyphs">112.680</text>
<text x="675" y="192" font-size="10" fill="#000" stroke="#000" stroke-width="0.15" textLength="33.4" lengthAdjust="spacingAndGlyphs">110.520</text>
<text x="675" y="324" font-size="10" fill="#000" stroke="#000" stroke-width="0.15" textLength="33.4" lengthAdjust="spacingAndGlyphs">106.140</text>
<text x="675" y="357" font-size="10" fill="#000" stroke="#000" stroke-width="0.15" textLength="33.4" lengthAdjust="spacingAndGlyphs">105.060</text>
<rect x="671" y="40" width="41" height="11" fill="#000"/>
<text x="675" y="49" font-size="10" fill="#fff" stroke="#fff" stroke-width="0.15" textLength="33.4" lengthAdjust="spacingAndGlyphs">115.226</text>
<rect x="671" y="49" width="41" height="11" fill="#90ee90"/>
<text x="675" y="58" font-size="10" fill="#fff" stroke="#fff" stroke-width="0.15" textLength="33.4" lengthAdjust="spacingAndGlyphs">114.950</text>
<rect x="671" y="206" width="41" height="11" fill="#90ee90"/>
<text x="675" y="215" font-size="10" fill="#fff" stroke="#fff" stroke-width="0.15" textLength="33.4" lengthAdjust="spacingAndGlyphs">109.750</text>
<rect x="671" y="286" width="41" height="11" fill="#90ee90"/>
<text x="675" y="295" font-size="10" fill="#fff" stroke="#fff" stroke-width="0.15" textLength="33.4" lengthAdjust="spacingAndGlyphs">107.100</text>
<rect x="671" y="32" width="41" height="11" fill="#90ee90"/>
<text x="675" y="41" font-size="10" fill="#fff" stroke="#fff" stroke-width="0.15" textLength="33.4" lengthAdjust="spacingAndGlyphs">115.500</text>
<rect x="671" y="56" width="41" height="11" fill="#90ee90"/>
<text x="675" y="65" font-size="10" fill="#fff" stroke="#fff" stroke-width="0.15" textLength="33.4" lengthAdjust="spacingAndGlyphs">114.700</text>
<rect x="671" y="69" width="41" height="11" fill="#90ee90"/>
<text x="675" y="78" font-size="10" fill="#fff" stroke="#fff" stroke-width="0.15" textLength="33.4" lengthAdjust="spacingAndGlyphs">114.275</text>
<rect x="671" y="83" width="41" height="11" fill="#90ee90"/>
<text x="675" y="92" font-size="10" fill="#fff" stroke="#fff" stroke-width="0.15" textLength="33.4" lengthAdjust="spacingAndGlyphs">113.800</text>
<rect x="671" y="97" width="41" height="11" fill="#90ee90"/>
<text x="675" y="106" font-size="10" fill="#fff" stroke="#fff" stroke-width="0.15" textLength="33.4" lengthAdjust="spacingAndGlyphs">113.350</text>
<rect x="671" y="108" width="41" height="11" fill="#90ee90"/>
<text x="675" y="117" font-size="10" fill="#fff" stroke="#fff" stroke-width="0.15" textLength="33.4" lengthAdjust="spacingAndGlyphs">112.975</text>
<rect x="671" y="123" width="41" height="11" fill="#90ee90"/>
<text x="675" y="132" font-size="10" fill="#fff" stroke="#fff" stroke-width="0.15" textLength="33.4" lengthAdjust="spacingAndGlyphs">112.475</text>
<rect x="671" y="139" width="41" height="11" fill="#90ee90"/>
<text x="675" y="148" font-size="10" fill="#fff" stroke="#fff" stroke-width="0.15" textLength="33.4" lengthAdjust="spacingAndGlyphs">111.950</text>
<rect x="671" y="150" width="41" height="11" fill="#90ee90"/>
<text x="675" y="159" font-size="10" fill="#fff" stroke="#fff" stroke-width="0.15" textLength="33.4" lengthAdjust="spacingAndGlyphs">111.600</text>
<rect x="671" y="172" width="41" height="11" fill="#90ee90"/>
<text x="675" y="181" font-size="10" fill="#fff" stroke="#fff" stroke-width="0.15" textLength="33.4" lengthAdjust="spacingAndGlyphs">110.875</text>
<rect x="671" y="201" width="41" height="11" fill="#90ee90"/>
<text x="675" y="210" font-size="10" fill="#fff" stroke="#fff" stroke-width="0.15" textLength="33.4" lengthAdjust="spacingAndGlyphs">109.925</text>
<rect x="671" y="216" width="41" height="11" fill="#90ee90"/>
<text x="675" y="225" font-size="10" fill="#fff" stroke="#fff" stroke-width="0.15" textLength="33.4" lengthAdjust="spacingAndGlyphs">109.400</text>
<rect x="671" y="226" width="41" height="11" fill="#90ee90"/>
<text x="675" y="235" font-size="10" fill="#fff" stroke="#fff" stroke-width="0.15" textLength="33.4" lengthAdjust="spacingAndGlyphs">109.100</text>
<rect x="671" y="236" width="41" height="11" fill="#90ee90"/>
<text x="675" y="245" font-size="10" fill="#fff" stroke="#fff" stroke-width="0.15" textLength="33.4" lengthAdjust="spacingAndGlyphs">108.750</text>
<rect x="671" y="251" width="41" height="11" fill="#90ee90"/>
<text x="675" y="260" font-size="10" fill="#fff" stroke="#fff" stroke-width="0.15" textLength="33.4" lengthAdjust="spacingAndGlyphs">108.275</text>
<rect x="671" y="268" width="41" height="11" fill="#90ee90"/>
<text x="675" y="277" font-size="10" fill="#fff" stroke="#fff" stroke-width="0.15" textLength="33.4" lengthAdjust="spacingAndGlyphs">107.700</text>
<rect x="671" y="279" width="41" height="11" fill="#90ee90"/>
<text x="675" y="288" font-size="10" fill="#fff" stroke="#fff" stroke-width="0.15" textLength="33.4" lengthAdjust="spacingAndGlyphs">107.350</text>
<rect x="671" y="295" width="41" height="11" fill="#90ee90"/>
<text x="675" y="304" font-size="10" fill="#fff" stroke="#fff" stroke-width="0.15" textLength="33.4" lengthAdjust="spacingAndGlyphs">106.800</text>
<rect x="671" y="310" width="41" height="11" fill="#90ee90"/>
<text x="675" y="319" font-size="10" fill="#fff" stroke="#fff" stroke-width="0.15" textLength="33.4" lengthAdjust="spacingAndGlyphs">106.325</text>
<rect x="671" y="342" width="41" height="11" fill="#90ee90"/>
<text x="675" y="351" font-size="10" fill="#fff" stroke="#fff" stroke-width="0.15" textLength="33.4" lengthAdjust="spacingAndGlyphs">105.250</text>
<rect x="671" y="17" width="41" height="11" fill="#008080"/>
<text x="675" y="26" font-size="10" fill="#fff" stroke="#fff" stroke-width="0.15" textLength="33.4" lengthAdjust="spacingAndGlyphs">116.000</text>
<rect x="671" y="329" width="41" height="11" fill="#008080"/>
<text x="675" y="338" font-size="10" fill="#fff" stroke="#fff" stroke-width="0.15" textLength="33.4" lengthAdjust="spacingAndGlyphs">105.675</text>
<text x="672.6" y="370" font-size="10" fill="#000" stroke="#000" stroke-width="0.15" textLength="29" lengthAdjust="spacingAndGlyphs">1.5517</text>
<text x="672.6" y="489" font-size="10" fill="#000" stroke="#000" stroke-width="0.15" textLength="19" lengthAdjust="spacingAndGlyphs">0.00</text>
<text x="672.6" y="533" font-size="10" fill="#000" stroke="#000" stroke-width="0.15" textLength="27" lengthAdjust="spacingAndGlyphs">-0.607</text>
<text x="672.4" y="549" font-size="10" fill="#000" stroke="#000" stroke-width="0.15" textLength="16" lengthAdjust="spacingAndGlyphs">100</text>
<text x="672" y="577" font-size="10" fill="#000" stroke="#000" stroke-width="0.15" textLength="10.8" lengthAdjust="spacingAndGlyphs">80</text>
<text x="672" y="682" font-size="10" fill="#000" stroke="#000" stroke-width="0.15" textLength="10.8" lengthAdjust="spacingAndGlyphs">20</text>
<text x="672.6" y="711" font-size="10" fill="#000" stroke="#000" stroke-width="0.15" textLength="5.6" lengthAdjust="spacingAndGlyphs">0</text>
<rect x="17" y="5" width="201" height="11" fill="#fff"/>
<rect x="6" y="363" width="130" height="11" fill="#fff"/>
<rect x="6" y="542" width="129" height="11" fill="#fff"/>
<rect x="6" y="701" width="232" height="11" fill="#fff"/>
<text x="17.9" y="14" font-size="10" fill="#000" stroke="#000" stroke-width="0.15" textLength="51.5" lengthAdjust="spacingAndGlyphs">USDJPY,H4</text>
<text x="75.3" y="14" font-size="10" fill="#000" stroke="#000" stroke-width="0.15" textLength="33.5" lengthAdjust="spacingAndGlyphs">115.310</text>
<text x="111.5" y="14" font-size="10" fill="#000" stroke="#000" stroke-width="0.15" textLength="33.5" lengthAdjust="spacingAndGlyphs">115.462</text>
<text x="147.3" y="14" font-size="10" fill="#000" stroke="#000" stroke-width="0.15" textLength="33.5" lengthAdjust="spacingAndGlyphs">115.084</text>
<text x="183.5" y="14" font-size="10" fill="#000" stroke="#000" stroke-width="0.15" textLength="32.9" lengthAdjust="spacingAndGlyphs">115.226</text>
<text x="6.8" y="372" font-size="10" fill="#000" stroke="#000" stroke-width="0.15" textLength="66.9" lengthAdjust="spacingAndGlyphs">MACD(12,26,9)</text>
<text x="75.2" y="372" font-size="10" fill="#000" stroke="#000" stroke-width="0.15" textLength="28.6" lengthAdjust="spacingAndGlyphs">0.4341</text>
<text x="106.8" y="372" font-size="10" fill="#000" stroke="#000" stroke-width="0.15" textLength="28.2" lengthAdjust="spacingAndGlyphs">0.4513</text>
<text x="6.8" y="551" font-size="10" fill="#000" stroke="#000" stroke-width="0.15" textLength="56.4" lengthAdjust="spacingAndGlyphs">Stoch(13,3,3)</text>
<text x="64.7" y="551" font-size="10" fill="#000" stroke="#000" stroke-width="0.15" textLength="33.2" lengthAdjust="spacingAndGlyphs">69.2159</text>
<text x="100.9" y="551" font-size="10" fill="#000" stroke="#000" stroke-width="0.15" textLength="33.5" lengthAdjust="spacingAndGlyphs">76.4735</text>
<text x="7" y="710" font-size="10" fill="#000" stroke="#000" stroke-width="0.15" textLength="229.6" lengthAdjust="spacingAndGlyphs">FxPro MT4, © 2001-2014, MetaQuotes Software Corp.</text>
<text x="1.5" y="727" font-size="10" fill="#000" stroke="#000" stroke-width="0.15" textLength="47.2" lengthAdjust="spacingAndGlyphs">8 Oct 2014</text>
<text x="66.1" y="727" font-size="10" fill="#000" stroke="#000" stroke-width="0.15" textLength="54.2" lengthAdjust="spacingAndGlyphs">13 Oct 08:00</text>
<text x="130.2" y="727" font-size="10" fill="#000" stroke="#000" stroke-width="0.15" textLength="54.1" lengthAdjust="spacingAndGlyphs">16 Oct 00:00</text>
<text x="194.2" y="727" font-size="10" fill="#000" stroke="#000" stroke-width="0.15" textLength="54.1" lengthAdjust="spacingAndGlyphs">20 Oct 16:00</text>
<text x="258.1" y="727" font-size="10" fill="#000" stroke="#000" stroke-width="0.15" textLength="54.1" lengthAdjust="spacingAndGlyphs">23 Oct 08:00</text>
<text x="322.1" y="727" font-size="10" fill="#000" stroke="#000" stroke-width="0.15" textLength="54.1" lengthAdjust="spacingAndGlyphs">28 Oct 00:00</text>
<text x="386.1" y="727" font-size="10" fill="#000" stroke="#000" stroke-width="0.15" textLength="53.9" lengthAdjust="spacingAndGlyphs">30 Oct 16:00</text>
<text x="449.7" y="727" font-size="10" fill="#000" stroke="#000" stroke-width="0.15" textLength="53.3" lengthAdjust="spacingAndGlyphs">4 Nov 08:00</text>
<text x="513.6" y="727" font-size="10" fill="#000" stroke="#000" stroke-width="0.15" textLength="53.4" lengthAdjust="spacingAndGlyphs">7 Nov 00:00</text>
<text x="577.6" y="727" font-size="10" fill="#000" stroke="#000" stroke-width="0.15" textLength="57.8" lengthAdjust="spacingAndGlyphs">11 Nov 16:00</text>
</svg>
</body></html>
